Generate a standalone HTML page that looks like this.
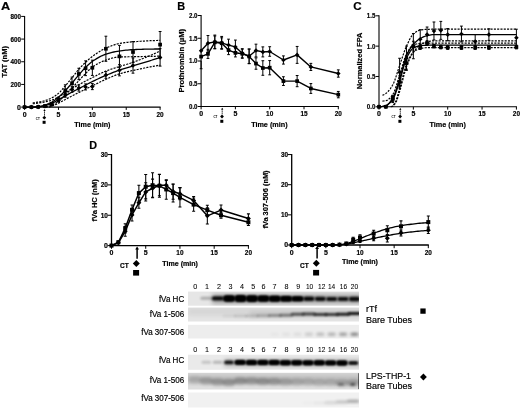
<!DOCTYPE html>
<html><head><meta charset="utf-8"><title>Figure</title>
<style>
html,body{margin:0;padding:0;background:#fff;}
svg{display:block;filter:blur(0.3px);font-family:"Liberation Sans",sans-serif;fill:#000;}
text{stroke:#000;stroke-width:.18px;}
</style></head>
<body>
<svg width="520" height="410" viewBox="0 0 520 410">
<rect width="520" height="410" fill="#fff"/>
<text x="0.9" y="10.3" font-size="11.2" font-weight="bold" textLength="9.2" lengthAdjust="spacingAndGlyphs">A</text>
<polyline points="32.73,102.84 34.34,102.65 35.95,102.42 37.57,102.16 39.18,101.88 40.79,101.58 42.4,101.24 44.02,100.85 45.63,100.4 47.24,99.86 48.85,99.22 50.47,98.51 52.08,97.73 53.69,96.84 55.3,95.82 56.91,94.67 58.53,93.39 60.14,91.85 61.75,90.04 63.36,88.08 64.98,86.14 66.59,84.27 68.2,82.37 69.81,80.44 71.42,78.49 73.04,76.5 74.65,74.42 76.26,72.33 77.87,70.33 79.49,68.48 81.1,66.74 82.71,65.08 84.32,63.49 85.94,61.97 87.55,60.48 89.16,59.05 90.77,57.7 92.38,56.46 94,55.28 95.61,54.14 97.22,53.03 98.83,51.97 100.45,50.96 102.06,50.02 103.67,49.15 105.28,48.36 106.89,47.65 108.51,46.97 110.12,46.31 111.73,45.69 113.34,45.12 114.96,44.6 116.57,44.14 118.18,43.75 119.79,43.43 121.41,43.15 123.02,42.9 124.63,42.67 126.24,42.47 127.85,42.28 129.47,42.11 131.08,41.96 132.69,41.83 134.3,41.71 135.92,41.59 137.53,41.48 139.14,41.36 140.75,41.25 142.36,41.14 143.98,41.04 145.59,40.94 147.2,40.85 148.81,40.77 150.43,40.69 152.04,40.63 153.65,40.57 155.26,40.53 156.88,40.49 158.49,40.47 160.1,40.47" fill="none" stroke="#000" stroke-width="1.2" stroke-linejoin="round" stroke-dasharray="2.1 1.2"/>
<polyline points="46.28,107.1 47.72,106.65 49.16,106.13 50.6,105.56 52.04,104.93 53.48,104.24 54.92,103.49 56.37,102.65 57.81,101.73 59.25,100.7 60.69,99.48 62.13,98.11 63.57,96.68 65.01,95.24 66.45,93.82 67.89,92.37 69.33,90.89 70.77,89.38 72.21,87.86 73.65,86.31 75.1,84.73 76.54,83.14 77.98,81.56 79.42,80.01 80.86,78.45 82.3,76.9 83.74,75.38 85.18,73.9 86.62,72.44 88.06,70.96 89.5,69.53 90.94,68.21 92.38,67.1 93.83,66.12 95.27,65.19 96.71,64.32 98.15,63.49 99.59,62.72 101.03,62.01 102.47,61.36 103.91,60.77 105.35,60.25 106.79,59.78 108.23,59.32 109.67,58.86 111.11,58.43 112.55,58.04 114,57.68 115.44,57.38 116.88,57.15 118.32,56.99 119.76,56.92 121.2,56.88 122.64,56.85 124.08,56.82 125.52,56.8 126.96,56.79 128.4,56.77 129.84,56.75 131.28,56.73 132.73,56.71 134.17,56.68 135.61,56.66 137.05,56.63 138.49,56.6 139.93,56.57 141.37,56.55 142.81,56.52 144.25,56.49 145.69,56.46 147.13,56.43 148.57,56.4 150.01,56.37 151.46,56.34 152.9,56.31 154.34,56.28 155.78,56.24 157.22,56.21 158.66,56.18 160.1,56.14" fill="none" stroke="#000" stroke-width="1.2" stroke-linejoin="round" stroke-dasharray="2.1 1.2"/>
<polyline points="32.73,103.74 34.34,103.56 35.95,103.36 37.57,103.15 39.18,102.92 40.79,102.68 42.4,102.42 44.02,102.13 45.63,101.8 47.24,101.43 48.85,101.02 50.47,100.55 52.08,100.03 53.69,99.39 55.3,98.65 56.91,97.84 58.53,96.99 60.14,96.06 61.75,95.04 63.36,93.98 64.98,92.94 66.59,91.94 68.2,90.94 69.81,89.95 71.42,88.98 73.04,88.02 74.65,87.07 76.26,86.13 77.87,85.22 79.49,84.33 81.1,83.45 82.71,82.59 84.32,81.74 85.94,80.91 87.55,80.08 89.16,79.26 90.77,78.44 92.38,77.63 94,76.81 95.61,75.97 97.22,75.13 98.83,74.31 100.45,73.5 102.06,72.72 103.67,71.98 105.28,71.29 106.89,70.66 108.51,70.07 110.12,69.51 111.73,68.98 113.34,68.47 114.96,67.97 116.57,67.47 118.18,66.96 119.79,66.45 121.41,65.94 123.02,65.45 124.63,64.96 126.24,64.48 127.85,63.99 129.47,63.48 131.08,62.96 132.69,62.41 134.3,61.84 135.92,61.26 137.53,60.66 139.14,60.05 140.75,59.43 142.36,58.8 143.98,58.16 145.59,57.5 147.2,56.83 148.81,56.15 150.43,55.45 152.04,54.74 153.65,54.02 155.26,53.28 156.88,52.53 158.49,51.77 160.1,50.99" fill="none" stroke="#000" stroke-width="1.2" stroke-linejoin="round" stroke-dasharray="2.1 1.2"/>
<polyline points="48.99,107.1 50.4,106.66 51.8,106.17 53.21,105.61 54.62,105.01 56.02,104.36 57.43,103.69 58.84,103 60.24,102.27 61.65,101.49 63.05,100.7 64.46,99.91 65.87,99.15 67.27,98.4 68.68,97.65 70.09,96.91 71.49,96.17 72.9,95.46 74.31,94.75 75.71,94.06 77.12,93.37 78.53,92.68 79.93,91.98 81.34,91.28 82.74,90.58 84.15,89.88 85.56,89.18 86.96,88.48 88.37,87.78 89.78,87.08 91.18,86.39 92.59,85.7 94,85.02 95.4,84.32 96.81,83.63 98.22,82.94 99.62,82.25 101.03,81.57 102.44,80.9 103.84,80.25 105.25,79.61 106.65,78.99 108.06,78.37 109.47,77.75 110.87,77.13 112.28,76.53 113.69,75.94 115.09,75.38 116.5,74.84 117.91,74.34 119.31,73.88 120.72,73.46 122.13,73.06 123.53,72.69 124.94,72.33 126.35,71.99 127.75,71.66 129.16,71.34 130.56,71.02 131.97,70.71 133.38,70.4 134.78,70.08 136.19,69.77 137.6,69.47 139,69.16 140.41,68.86 141.82,68.57 143.22,68.27 144.63,67.98 146.04,67.7 147.44,67.42 148.85,67.14 150.25,66.87 151.66,66.6 153.07,66.34 154.47,66.08 155.88,65.83 157.29,65.58 158.69,65.34 160.1,65.1" fill="none" stroke="#000" stroke-width="1.2" stroke-linejoin="round" stroke-dasharray="2.1 1.2"/>
<polyline points="24.6,107.1 26.32,107.1 28.03,107.1 29.75,107.1 31.46,107.1 33.18,107.06 34.89,106.95 36.61,106.81 38.32,106.63 40.04,106.37 41.75,105.98 43.47,105.52 45.18,105.01 46.9,104.41 48.61,103.7 50.33,102.89 52.04,101.98 53.76,100.91 55.47,99.67 57.19,98.31 58.9,96.88 60.62,95.33 62.33,93.65 64.05,91.89 65.76,90.1 67.48,88.23 69.19,86.3 70.91,84.32 72.63,82.32 74.34,80.24 76.06,78.14 77.77,76.06 79.49,74.05 81.2,72.07 82.92,70.13 84.63,68.29 86.35,66.59 88.06,64.95 89.78,63.41 91.49,62.02 93.21,60.83 94.92,59.69 96.64,58.61 98.35,57.59 100.07,56.65 101.78,55.79 103.5,55.02 105.21,54.36 106.93,53.8 108.64,53.29 110.36,52.82 112.07,52.39 113.79,52 115.51,51.65 117.22,51.34 118.94,51.07 120.65,50.83 122.37,50.6 124.08,50.4 125.8,50.2 127.51,50.03 129.23,49.88 130.94,49.76 132.66,49.66 134.37,49.59 136.09,49.52 137.8,49.46 139.52,49.39 141.23,49.33 142.95,49.27 144.66,49.22 146.38,49.17 148.09,49.13 149.81,49.09 151.52,49.06 153.24,49.03 154.95,49.01 156.67,48.99 158.38,48.98 160.1,48.98" fill="none" stroke="#000" stroke-width="1.3" stroke-linejoin="round"/>
<polyline points="24.6,107.1 26.32,107.1 28.03,107.1 29.75,107.1 31.46,107.1 33.18,107.07 34.89,106.99 36.61,106.88 38.32,106.75 40.04,106.56 41.75,106.29 43.47,105.96 45.18,105.58 46.9,105.11 48.61,104.52 50.33,103.85 52.04,103.15 53.76,102.35 55.47,101.46 57.19,100.53 58.9,99.59 60.62,98.61 62.33,97.61 64.05,96.59 65.76,95.61 67.48,94.63 69.19,93.65 70.91,92.7 72.63,91.77 74.34,90.89 76.06,90.02 77.77,89.15 79.49,88.27 81.2,87.37 82.92,86.46 84.63,85.54 86.35,84.63 88.06,83.73 89.78,82.85 91.49,81.99 93.21,81.15 94.92,80.33 96.64,79.52 98.35,78.73 100.07,77.95 101.78,77.18 103.5,76.43 105.21,75.7 106.93,74.98 108.64,74.27 110.36,73.57 112.07,72.89 113.79,72.22 115.51,71.57 117.22,70.94 118.94,70.32 120.65,69.73 122.37,69.17 124.08,68.62 125.8,68.08 127.51,67.56 129.23,67.04 130.94,66.52 132.66,65.99 134.37,65.46 136.09,64.94 137.8,64.41 139.52,63.89 141.23,63.36 142.95,62.84 144.66,62.32 146.38,61.8 148.09,61.28 149.81,60.77 151.52,60.25 153.24,59.74 154.95,59.23 156.67,58.72 158.38,58.22 160.1,57.71" fill="none" stroke="#000" stroke-width="1.3" stroke-linejoin="round"/>
<path d="M44.93 105.53V106.43M43.53 105.53H46.33M43.53 106.43H46.33" stroke="#000" stroke-width="1" fill="none"/>
<path d="M51.7 103.18V104.97M50.3 103.18H53.1M50.3 104.97H53.1" stroke="#000" stroke-width="1" fill="none"/>
<path d="M58.48 97.02V101.5M57.08 97.02H59.88M57.08 101.5H59.88" stroke="#000" stroke-width="1" fill="none"/>
<path d="M65.25 84.81V96.01M63.85 84.81H66.65M63.85 96.01H66.65" stroke="#000" stroke-width="1" fill="none"/>
<path d="M72.03 77.09V89.41M70.62 77.09H73.43M70.62 89.41H73.43" stroke="#000" stroke-width="1" fill="none"/>
<path d="M78.8 68.24V79.66M77.4 68.24H80.2M77.4 79.66H80.2" stroke="#000" stroke-width="1" fill="none"/>
<path d="M85.58 60.85V75.63M84.17 60.85H86.98M84.17 75.63H86.98" stroke="#000" stroke-width="1" fill="none"/>
<path d="M92.35 60.18V75.41M90.95 60.18H93.75M90.95 75.41H93.75" stroke="#000" stroke-width="1" fill="none"/>
<path d="M105.9 36.21V61.3M104.5 36.21H107.3M104.5 61.3H107.3" stroke="#000" stroke-width="1" fill="none"/>
<path d="M119.45 45.39V67.34M118.05 45.39H120.85M118.05 67.34H120.85" stroke="#000" stroke-width="1" fill="none"/>
<path d="M133 41.59V62.42M131.6 41.59H134.4M131.6 62.42H134.4" stroke="#000" stroke-width="1" fill="none"/>
<path d="M160.1 31.51V57.71M158.7 31.51H161.5M158.7 57.71H161.5" stroke="#000" stroke-width="1" fill="none"/>
<path d="M44.93 105.87V106.54M43.53 105.87H46.33M43.53 106.54H46.33" stroke="#000" stroke-width="1" fill="none"/>
<path d="M51.7 103.96V105.31M50.3 103.96H53.1M50.3 105.31H53.1" stroke="#000" stroke-width="1" fill="none"/>
<path d="M58.48 98.81V101.95M57.08 98.81H59.88M57.08 101.95H59.88" stroke="#000" stroke-width="1" fill="none"/>
<path d="M65.25 92.32V97.24M63.85 92.32H66.65M63.85 97.24H66.65" stroke="#000" stroke-width="1" fill="none"/>
<path d="M72.03 86.72V92.32M70.62 86.72H73.43M70.62 92.32H73.43" stroke="#000" stroke-width="1" fill="none"/>
<path d="M78.8 85.04V91.09M77.4 85.04H80.2M77.4 91.09H80.2" stroke="#000" stroke-width="1" fill="none"/>
<path d="M85.58 83.92V89.97M84.17 83.92H86.98M84.17 89.97H86.98" stroke="#000" stroke-width="1" fill="none"/>
<path d="M92.35 83.58V89.63M90.95 83.58H93.75M90.95 89.63H93.75" stroke="#000" stroke-width="1" fill="none"/>
<path d="M105.9 71.6V78.32M104.5 71.6H107.3M104.5 78.32H107.3" stroke="#000" stroke-width="1" fill="none"/>
<path d="M119.45 64.66V75.85M118.05 64.66H120.85M118.05 75.85H120.85" stroke="#000" stroke-width="1" fill="none"/>
<path d="M133 57.94V73.17M131.6 57.94H134.4M131.6 73.17H134.4" stroke="#000" stroke-width="1" fill="none"/>
<path d="M160.1 48.64V66.11M158.7 48.64H161.5M158.7 66.11H161.5" stroke="#000" stroke-width="1" fill="none"/>
<rect x="22.75" y="105.25" width="3.7" height="3.7" fill="#000"/>
<rect x="29.52" y="105.25" width="3.7" height="3.7" fill="#000"/>
<rect x="36.3" y="105.03" width="3.7" height="3.7" fill="#000"/>
<rect x="43.08" y="104.13" width="3.7" height="3.7" fill="#000"/>
<rect x="49.85" y="102.23" width="3.7" height="3.7" fill="#000"/>
<rect x="56.62" y="97.41" width="3.7" height="3.7" fill="#000"/>
<rect x="63.4" y="88.56" width="3.7" height="3.7" fill="#000"/>
<rect x="70.18" y="81.4" width="3.7" height="3.7" fill="#000"/>
<rect x="76.95" y="72.1" width="3.7" height="3.7" fill="#000"/>
<rect x="83.73" y="66.39" width="3.7" height="3.7" fill="#000"/>
<rect x="90.5" y="65.94" width="3.7" height="3.7" fill="#000"/>
<rect x="104.05" y="46.9" width="3.7" height="3.7" fill="#000"/>
<rect x="117.6" y="54.52" width="3.7" height="3.7" fill="#000"/>
<rect x="131.15" y="50.15" width="3.7" height="3.7" fill="#000"/>
<rect x="158.25" y="42.76" width="3.7" height="3.7" fill="#000"/>
<path d="M24.6 104.8L26.9 107.1L24.6 109.4L22.3 107.1Z" fill="#000"/>
<path d="M31.38 104.8L33.67 107.1L31.38 109.4L29.07 107.1Z" fill="#000"/>
<path d="M38.15 104.58L40.45 106.88L38.15 109.18L35.85 106.88Z" fill="#000"/>
<path d="M44.93 103.9L47.23 106.2L44.93 108.5L42.63 106.2Z" fill="#000"/>
<path d="M51.7 102.34L54 104.64L51.7 106.94L49.4 104.64Z" fill="#000"/>
<path d="M58.48 98.08L60.77 100.38L58.48 102.68L56.18 100.38Z" fill="#000"/>
<path d="M65.25 92.48L67.55 94.78L65.25 97.08L62.95 94.78Z" fill="#000"/>
<path d="M72.03 87.22L74.33 89.52L72.03 91.82L69.73 89.52Z" fill="#000"/>
<path d="M78.8 85.76L81.1 88.06L78.8 90.36L76.5 88.06Z" fill="#000"/>
<path d="M85.58 84.64L87.88 86.94L85.58 89.24L83.28 86.94Z" fill="#000"/>
<path d="M92.35 84.31L94.65 86.61L92.35 88.91L90.05 86.61Z" fill="#000"/>
<path d="M105.9 72.66L108.2 74.96L105.9 77.26L103.6 74.96Z" fill="#000"/>
<path d="M119.45 67.96L121.75 70.26L119.45 72.56L117.15 70.26Z" fill="#000"/>
<path d="M133 63.25L135.3 65.55L133 67.85L130.7 65.55Z" fill="#000"/>
<path d="M160.1 55.08L162.4 57.38L160.1 59.68L157.8 57.38Z" fill="#000"/>
<path d="M24.6 15.92V107.7M24 107.1H160.6" stroke="#000" stroke-width="1.1" fill="none"/>
<line x1="21.2" y1="107.1" x2="24.6" y2="107.1" stroke="#000" stroke-width="1"/>
<text x="21" y="109.55" font-size="7" font-weight="bold" text-anchor="end" textLength="3.89" lengthAdjust="spacingAndGlyphs">0</text>
<line x1="21.2" y1="84.43" x2="24.6" y2="84.43" stroke="#000" stroke-width="1"/>
<text x="21" y="86.88" font-size="7" font-weight="bold" text-anchor="end" textLength="10.48" lengthAdjust="spacingAndGlyphs">200</text>
<line x1="21.2" y1="61.76" x2="24.6" y2="61.76" stroke="#000" stroke-width="1"/>
<text x="21" y="64.21" font-size="7" font-weight="bold" text-anchor="end" textLength="10.48" lengthAdjust="spacingAndGlyphs">400</text>
<line x1="21.2" y1="39.09" x2="24.6" y2="39.09" stroke="#000" stroke-width="1"/>
<text x="21" y="41.54" font-size="7" font-weight="bold" text-anchor="end" textLength="10.48" lengthAdjust="spacingAndGlyphs">600</text>
<line x1="21.2" y1="16.42" x2="24.6" y2="16.42" stroke="#000" stroke-width="1"/>
<text x="21" y="18.87" font-size="7" font-weight="bold" text-anchor="end" textLength="10.48" lengthAdjust="spacingAndGlyphs">800</text>
<line x1="24.6" y1="107.1" x2="24.6" y2="109.9" stroke="#000" stroke-width="1"/>
<text x="24.6" y="116.5" font-size="7" font-weight="bold" text-anchor="middle" textLength="3.89" lengthAdjust="spacingAndGlyphs">0</text>
<line x1="58.48" y1="107.1" x2="58.48" y2="109.9" stroke="#000" stroke-width="1"/>
<text x="58.48" y="116.5" font-size="7" font-weight="bold" text-anchor="middle" textLength="3.89" lengthAdjust="spacingAndGlyphs">5</text>
<line x1="92.35" y1="107.1" x2="92.35" y2="109.9" stroke="#000" stroke-width="1"/>
<text x="92.35" y="116.5" font-size="7" font-weight="bold" text-anchor="middle" textLength="7.18" lengthAdjust="spacingAndGlyphs">10</text>
<line x1="126.22" y1="107.1" x2="126.22" y2="109.9" stroke="#000" stroke-width="1"/>
<text x="126.22" y="116.5" font-size="7" font-weight="bold" text-anchor="middle" textLength="7.18" lengthAdjust="spacingAndGlyphs">15</text>
<line x1="160.1" y1="107.1" x2="160.1" y2="109.9" stroke="#000" stroke-width="1"/>
<text x="160.1" y="116.5" font-size="7" font-weight="bold" text-anchor="middle" textLength="7.18" lengthAdjust="spacingAndGlyphs">20</text>
<text x="6.5" y="61.75" font-size="7" font-weight="bold" text-anchor="middle" textLength="31.5" lengthAdjust="spacingAndGlyphs" transform="rotate(-90 6.5 61.75)">TAT (nM)</text>
<text x="92.4" y="126.7" font-size="7.7" font-weight="bold" text-anchor="middle" textLength="36.2" lengthAdjust="spacingAndGlyphs">Time (min)</text>
<line x1="44.5" y1="110" x2="44.5" y2="116" stroke="#000" stroke-width="0.75" stroke-dasharray="1.6 0.35"/>
<path d="M44.5 109L45.6 110.9H43.4Z" fill="#000"/>
<path d="M44.3 115.8L46.2 117.7L44.3 119.6L42.4 117.7Z" fill="#000"/>
<rect x="42.6" y="120.8" width="3" height="3" fill="#000"/>
<text x="35.8" y="119.5" font-size="2.8" font-weight="bold" textLength="4" lengthAdjust="spacingAndGlyphs" style="stroke-width:0">CT</text>
<text x="177.3" y="10.2" font-size="11.2" font-weight="bold" textLength="7.9" lengthAdjust="spacingAndGlyphs">B</text>
<path d="M201.1 61V68.73M199.7 68.73H202.5" stroke="#000" stroke-width="1" fill="none"/>
<polyline points="201.1,56.59 207.96,53.86 214.82,42.34 221.68,43.26 228.54,50.08 235.4,52.81 242.26,53.72 249.12,56.45 255.98,63.55 262.84,68.01 269.7,67.69 283.42,81.11 297.14,81.11 310.86,88.48 338.3,94.62" fill="none" stroke="#000" stroke-width="1.4" stroke-linejoin="round"/>
<polyline points="201.1,50.81 207.96,43.26 214.82,41.89 221.68,42.8 228.54,45.07 235.4,46.89 242.26,53.27 249.12,56.22 255.98,50.54 262.84,51.9 269.7,51.49 283.42,60 297.14,54.9 310.86,66.91 338.3,73.51" fill="none" stroke="#000" stroke-width="1.4" stroke-linejoin="round"/>
<path d="M207.96 49.31V58.41M206.56 49.31H209.36M206.56 58.41H209.36" stroke="#000" stroke-width="1" fill="none"/>
<path d="M214.82 35.98V48.71M213.42 35.98H216.22M213.42 48.71H216.22" stroke="#000" stroke-width="1" fill="none"/>
<path d="M221.68 37.8V48.71M220.28 37.8H223.08M220.28 48.71H223.08" stroke="#000" stroke-width="1" fill="none"/>
<path d="M228.54 45.53V54.63M227.14 45.53H229.94M227.14 54.63H229.94" stroke="#000" stroke-width="1" fill="none"/>
<path d="M235.4 48.71V56.91M234 48.71H236.8M234 56.91H236.8" stroke="#000" stroke-width="1" fill="none"/>
<path d="M242.26 49.17V58.27M240.86 49.17H243.66M240.86 58.27H243.66" stroke="#000" stroke-width="1" fill="none"/>
<path d="M249.12 49.17V63.73M247.72 49.17H250.52M247.72 63.73H250.52" stroke="#000" stroke-width="1" fill="none"/>
<path d="M255.98 57.86V69.24M254.58 57.86H257.38M254.58 69.24H257.38" stroke="#000" stroke-width="1" fill="none"/>
<path d="M262.84 60.73V75.29M261.44 60.73H264.24M261.44 75.29H264.24" stroke="#000" stroke-width="1" fill="none"/>
<path d="M269.7 60.55V74.83M268.3 60.55H271.1M268.3 74.83H271.1" stroke="#000" stroke-width="1" fill="none"/>
<path d="M283.42 76.74V85.48M282.02 76.74H284.82M282.02 85.48H284.82" stroke="#000" stroke-width="1" fill="none"/>
<path d="M297.14 75.51V86.71M295.74 75.51H298.54M295.74 86.71H298.54" stroke="#000" stroke-width="1" fill="none"/>
<path d="M310.86 83.57V93.4M309.46 83.57H312.26M309.46 93.4H312.26" stroke="#000" stroke-width="1" fill="none"/>
<path d="M338.3 91.44V97.81M336.9 91.44H339.7M336.9 97.81H339.7" stroke="#000" stroke-width="1" fill="none"/>
<path d="M207.96 35.52V50.99M206.56 35.52H209.36M206.56 50.99H209.36" stroke="#000" stroke-width="1" fill="none"/>
<path d="M214.82 35.07V48.71M213.42 35.07H216.22M213.42 48.71H216.22" stroke="#000" stroke-width="1" fill="none"/>
<path d="M221.68 36.43V49.17M220.28 36.43H223.08M220.28 49.17H223.08" stroke="#000" stroke-width="1" fill="none"/>
<path d="M228.54 39.16V50.99M227.14 39.16H229.94M227.14 50.99H229.94" stroke="#000" stroke-width="1" fill="none"/>
<path d="M235.4 40.07V53.72M234 40.07H236.8M234 53.72H236.8" stroke="#000" stroke-width="1" fill="none"/>
<path d="M242.26 48.71V57.82M240.86 48.71H243.66M240.86 57.82H243.66" stroke="#000" stroke-width="1" fill="none"/>
<path d="M249.12 48.94V63.5M247.72 48.94H250.52M247.72 63.5H250.52" stroke="#000" stroke-width="1" fill="none"/>
<path d="M255.98 44.16V56.91M254.58 44.16H257.38M254.58 56.91H257.38" stroke="#000" stroke-width="1" fill="none"/>
<path d="M262.84 46.89V56.91M261.44 46.89H264.24M261.44 56.91H264.24" stroke="#000" stroke-width="1" fill="none"/>
<path d="M269.7 46.71V56.27M268.3 46.71H271.1M268.3 56.27H271.1" stroke="#000" stroke-width="1" fill="none"/>
<path d="M283.42 55.9V64.09M282.02 55.9H284.82M282.02 64.09H284.82" stroke="#000" stroke-width="1" fill="none"/>
<path d="M297.14 46.44V63.37M295.74 46.44H298.54M295.74 63.37H298.54" stroke="#000" stroke-width="1" fill="none"/>
<path d="M310.86 63.37V70.46M309.46 63.37H312.26M309.46 70.46H312.26" stroke="#000" stroke-width="1" fill="none"/>
<path d="M338.3 69.87V77.15M336.9 69.87H339.7M336.9 77.15H339.7" stroke="#000" stroke-width="1" fill="none"/>
<rect x="199.25" y="54.74" width="3.7" height="3.7" fill="#000"/>
<rect x="206.11" y="52.01" width="3.7" height="3.7" fill="#000"/>
<rect x="212.97" y="40.49" width="3.7" height="3.7" fill="#000"/>
<rect x="219.83" y="41.41" width="3.7" height="3.7" fill="#000"/>
<rect x="226.69" y="48.23" width="3.7" height="3.7" fill="#000"/>
<rect x="233.55" y="50.96" width="3.7" height="3.7" fill="#000"/>
<rect x="240.41" y="51.87" width="3.7" height="3.7" fill="#000"/>
<rect x="247.27" y="54.6" width="3.7" height="3.7" fill="#000"/>
<rect x="254.13" y="61.7" width="3.7" height="3.7" fill="#000"/>
<rect x="260.99" y="66.16" width="3.7" height="3.7" fill="#000"/>
<rect x="267.85" y="65.84" width="3.7" height="3.7" fill="#000"/>
<rect x="281.57" y="79.26" width="3.7" height="3.7" fill="#000"/>
<rect x="295.29" y="79.26" width="3.7" height="3.7" fill="#000"/>
<rect x="309.01" y="86.63" width="3.7" height="3.7" fill="#000"/>
<rect x="336.45" y="92.77" width="3.7" height="3.7" fill="#000"/>
<path d="M201.1 48.51L203.4 50.81L201.1 53.11L198.8 50.81Z" fill="#000"/>
<path d="M207.96 40.96L210.26 43.26L207.96 45.55L205.66 43.26Z" fill="#000"/>
<path d="M214.82 39.59L217.12 41.89L214.82 44.19L212.52 41.89Z" fill="#000"/>
<path d="M221.68 40.5L223.98 42.8L221.68 45.1L219.38 42.8Z" fill="#000"/>
<path d="M228.54 42.77L230.84 45.07L228.54 47.37L226.24 45.07Z" fill="#000"/>
<path d="M235.4 44.59L237.7 46.89L235.4 49.19L233.1 46.89Z" fill="#000"/>
<path d="M242.26 50.97L244.56 53.27L242.26 55.56L239.96 53.27Z" fill="#000"/>
<path d="M249.12 53.92L251.42 56.22L249.12 58.52L246.82 56.22Z" fill="#000"/>
<path d="M255.98 48.24L258.28 50.54L255.98 52.84L253.68 50.54Z" fill="#000"/>
<path d="M262.84 49.6L265.14 51.9L262.84 54.2L260.54 51.9Z" fill="#000"/>
<path d="M269.7 49.19L272 51.49L269.7 53.79L267.4 51.49Z" fill="#000"/>
<path d="M283.42 57.7L285.72 60L283.42 62.3L281.12 60Z" fill="#000"/>
<path d="M297.14 52.6L299.44 54.9L297.14 57.2L294.84 54.9Z" fill="#000"/>
<path d="M310.86 64.61L313.16 66.91L310.86 69.21L308.56 66.91Z" fill="#000"/>
<path d="M338.3 71.21L340.6 73.51L338.3 75.81L336 73.51Z" fill="#000"/>
<path d="M201.1 15V107.1M200.5 106.5H338.8" stroke="#000" stroke-width="1.1" fill="none"/>
<line x1="197.7" y1="106.5" x2="201.1" y2="106.5" stroke="#000" stroke-width="1"/>
<text x="197.5" y="108.95" font-size="7" font-weight="bold" text-anchor="end" textLength="8.53" lengthAdjust="spacingAndGlyphs">0.0</text>
<line x1="197.7" y1="83.75" x2="201.1" y2="83.75" stroke="#000" stroke-width="1"/>
<text x="197.5" y="86.2" font-size="7" font-weight="bold" text-anchor="end" textLength="8.53" lengthAdjust="spacingAndGlyphs">0.5</text>
<line x1="197.7" y1="61" x2="201.1" y2="61" stroke="#000" stroke-width="1"/>
<text x="197.5" y="63.45" font-size="7" font-weight="bold" text-anchor="end" textLength="8.53" lengthAdjust="spacingAndGlyphs">1.0</text>
<line x1="197.7" y1="38.25" x2="201.1" y2="38.25" stroke="#000" stroke-width="1"/>
<text x="197.5" y="40.7" font-size="7" font-weight="bold" text-anchor="end" textLength="8.53" lengthAdjust="spacingAndGlyphs">1.5</text>
<line x1="197.7" y1="15.5" x2="201.1" y2="15.5" stroke="#000" stroke-width="1"/>
<text x="197.5" y="17.95" font-size="7" font-weight="bold" text-anchor="end" textLength="8.53" lengthAdjust="spacingAndGlyphs">2.0</text>
<line x1="201.1" y1="106.5" x2="201.1" y2="109.3" stroke="#000" stroke-width="1"/>
<text x="201.1" y="115.9" font-size="7" font-weight="bold" text-anchor="middle" textLength="3.89" lengthAdjust="spacingAndGlyphs">0</text>
<line x1="235.4" y1="106.5" x2="235.4" y2="109.3" stroke="#000" stroke-width="1"/>
<text x="235.4" y="115.9" font-size="7" font-weight="bold" text-anchor="middle" textLength="3.89" lengthAdjust="spacingAndGlyphs">5</text>
<line x1="269.7" y1="106.5" x2="269.7" y2="109.3" stroke="#000" stroke-width="1"/>
<text x="269.7" y="115.9" font-size="7" font-weight="bold" text-anchor="middle" textLength="7.18" lengthAdjust="spacingAndGlyphs">10</text>
<line x1="304" y1="106.5" x2="304" y2="109.3" stroke="#000" stroke-width="1"/>
<text x="304" y="115.9" font-size="7" font-weight="bold" text-anchor="middle" textLength="7.18" lengthAdjust="spacingAndGlyphs">15</text>
<line x1="338.3" y1="106.5" x2="338.3" y2="109.3" stroke="#000" stroke-width="1"/>
<text x="338.3" y="115.9" font-size="7" font-weight="bold" text-anchor="middle" textLength="7.18" lengthAdjust="spacingAndGlyphs">20</text>
<text x="184.1" y="60.75" font-size="7" font-weight="bold" text-anchor="middle" textLength="63.5" lengthAdjust="spacingAndGlyphs" transform="rotate(-90 184.1 60.75)">Prothrombin (µM)</text>
<text x="269.35" y="126.5" font-size="7.7" font-weight="bold" text-anchor="middle" textLength="36.4" lengthAdjust="spacingAndGlyphs">Time (min)</text>
<line x1="222.2" y1="108.7" x2="222.2" y2="114.6" stroke="#000" stroke-width="0.75" stroke-dasharray="1.6 0.35"/>
<path d="M222.2 107.7L223.3 109.6H221.1Z" fill="#000"/>
<path d="M222 114.6L223.9 116.5L222 118.4L220.1 116.5Z" fill="#000"/>
<rect x="220.3" y="119.8" width="3" height="3" fill="#000"/>
<text x="213.4" y="118.2" font-size="2.8" font-weight="bold" textLength="4" lengthAdjust="spacingAndGlyphs" style="stroke-width:0">CT</text>
<text x="353.2" y="10.4" font-size="11.2" font-weight="bold" textLength="8.4" lengthAdjust="spacingAndGlyphs">C</text>
<polyline points="382.44,95.27 383.56,94.84 384.69,94.24 385.81,93.49 386.94,92.6 388.06,91.51 389.19,90.22 390.32,88.74 391.44,87.08 392.57,85.26 393.69,83.05 394.82,80.21 395.94,76.91 397.07,73.38 398.2,69.8 399.32,66.38 400.45,63.12 401.57,59.74 402.7,56.32 403.82,52.99 404.95,49.85 406.08,47.04 407.2,44.56 408.33,42.14 409.45,39.84 410.58,37.73 411.7,35.93 412.83,34.5 413.96,33.49 415.08,32.59 416.21,31.8 417.33,31.12 418.46,30.58 419.58,30.2 420.71,29.97 421.84,29.79 422.96,29.64 424.09,29.52 425.21,29.43 426.34,29.36 427.47,29.32 428.59,29.29 429.72,29.26 430.84,29.24 431.97,29.22 433.09,29.21 434.22,29.21 435.35,29.21 436.47,29.21 437.6,29.21 438.72,29.21 439.85,29.21 440.97,29.21 442.1,29.21 443.23,29.21 444.35,29.21 445.48,29.21 446.6,29.21 447.73,29.21 448.85,29.21 449.98,29.21 451.11,29.21 452.23,29.21 453.36,29.21 454.48,29.21 455.61,29.21 456.73,29.21 457.86,29.21 458.99,29.21 460.11,29.21 461.24,29.21 462.36,29.21 463.49,29.21 464.62,29.21 465.74,29.21 466.87,29.21 467.99,29.21 469.12,29.21 470.24,29.21 471.37,29.21 472.5,29.21 473.62,29.21 474.75,29.21 475.87,29.21 477,29.21 478.12,29.21 479.25,29.21 480.38,29.21 481.5,29.21 482.63,29.21 483.75,29.21 484.88,29.21 486,29.21 487.13,29.21 488.26,29.21 489.38,29.21 490.51,29.21 491.63,29.21 492.76,29.21 493.88,29.21 495.01,29.21 496.14,29.21 497.26,29.21 498.39,29.21 499.51,29.21 500.64,29.21 501.77,29.21 502.89,29.21 504.02,29.21 505.14,29.21 506.27,29.21 507.39,29.21 508.52,29.21 509.65,29.21 510.77,29.21 511.9,29.21 513.02,29.21 514.15,29.21 515.27,29.21 516.4,29.21" fill="none" stroke="#000" stroke-width="1.2" stroke-linejoin="round" stroke-dasharray="2.1 1.2"/>
<polyline points="391.37,106.8 392.42,106.48 393.47,105.63 394.52,104.43 395.57,103.05 396.62,100.94 397.67,97.94 398.72,94.52 399.77,91.12 400.82,87.49 401.87,83.47 402.92,79.29 403.97,75.16 405.03,71.29 406.08,67.9 407.13,65.06 408.18,62.41 409.23,59.92 410.28,57.62 411.33,55.54 412.38,53.68 413.43,52.09 414.48,50.65 415.53,49.32 416.58,48.1 417.63,47.01 418.68,46.05 419.74,45.24 420.79,44.57 421.84,43.97 422.89,43.43 423.94,42.94 424.99,42.52 426.04,42.17 427.09,41.89 428.14,41.64 429.19,41.41 430.24,41.19 431.29,41.01 432.34,40.88 433.39,40.81 434.44,40.79 435.5,40.79 436.55,40.79 437.6,40.79 438.65,40.79 439.7,40.79 440.75,40.79 441.8,40.79 442.85,40.79 443.9,40.79 444.95,40.79 446,40.79 447.05,40.79 448.1,40.79 449.15,40.79 450.21,40.79 451.26,40.79 452.31,40.79 453.36,40.79 454.41,40.79 455.46,40.79 456.51,40.79 457.56,40.79 458.61,40.79 459.66,40.79 460.71,40.79 461.76,40.79 462.81,40.79 463.86,40.79 464.92,40.79 465.97,40.79 467.02,40.79 468.07,40.79 469.12,40.79 470.17,40.79 471.22,40.79 472.27,40.79 473.32,40.79 474.37,40.79 475.42,40.79 476.47,40.79 477.52,40.79 478.57,40.79 479.63,40.79 480.68,40.79 481.73,40.79 482.78,40.79 483.83,40.79 484.88,40.79 485.93,40.79 486.98,40.79 488.03,40.79 489.08,40.79 490.13,40.79 491.18,40.79 492.23,40.79 493.28,40.79 494.34,40.79 495.39,40.79 496.44,40.79 497.49,40.79 498.54,40.79 499.59,40.79 500.64,40.79 501.69,40.79 502.74,40.79 503.79,40.79 504.84,40.79 505.89,40.79 506.94,40.79 507.99,40.79 509.05,40.79 510.1,40.79 511.15,40.79 512.2,40.79 513.25,40.79 514.3,40.79 515.35,40.79 516.4,40.79" fill="none" stroke="#000" stroke-width="1.2" stroke-linejoin="round" stroke-dasharray="2.1 1.2"/>
<polyline points="382.44,101.04 383.56,101 384.69,100.89 385.81,100.74 386.94,100.42 388.06,99.76 389.19,98.84 390.32,97.68 391.44,96.36 392.57,94.9 393.69,93.04 394.82,90.35 395.94,87.06 397.07,83.44 398.2,79.71 399.32,76.12 400.45,72.64 401.57,68.83 402.7,64.89 403.82,61.08 404.95,57.64 406.08,54.83 407.2,52.69 408.33,50.71 409.45,48.88 410.58,47.3 411.7,46.04 412.83,45.17 413.96,44.7 415.08,44.34 416.21,44.03 417.33,43.79 418.46,43.6 419.58,43.46 420.71,43.37 421.84,43.29 422.96,43.22 424.09,43.17 425.21,43.13 426.34,43.1 427.47,43.1 428.59,43.1 429.72,43.1 430.84,43.1 431.97,43.1 433.09,43.1 434.22,43.1 435.35,43.1 436.47,43.1 437.6,43.1 438.72,43.1 439.85,43.1 440.97,43.1 442.1,43.1 443.23,43.1 444.35,43.1 445.48,43.1 446.6,43.1 447.73,43.1 448.85,43.1 449.98,43.1 451.11,43.1 452.23,43.1 453.36,43.1 454.48,43.1 455.61,43.1 456.73,43.1 457.86,43.1 458.99,43.1 460.11,43.1 461.24,43.1 462.36,43.1 463.49,43.1 464.62,43.1 465.74,43.1 466.87,43.1 467.99,43.1 469.12,43.1 470.24,43.1 471.37,43.1 472.5,43.1 473.62,43.1 474.75,43.1 475.87,43.1 477,43.1 478.12,43.1 479.25,43.1 480.38,43.1 481.5,43.1 482.63,43.1 483.75,43.1 484.88,43.1 486,43.1 487.13,43.1 488.26,43.1 489.38,43.1 490.51,43.1 491.63,43.1 492.76,43.1 493.88,43.1 495.01,43.1 496.14,43.1 497.26,43.1 498.39,43.1 499.51,43.1 500.64,43.1 501.77,43.1 502.89,43.1 504.02,43.1 505.14,43.1 506.27,43.1 507.39,43.1 508.52,43.1 509.65,43.1 510.77,43.1 511.9,43.1 513.02,43.1 514.15,43.1 515.27,43.1 516.4,43.1" fill="none" stroke="#000" stroke-width="1.2" stroke-linejoin="round" stroke-dasharray="2.1 1.2"/>
<polyline points="390.68,106.8 391.74,106.48 392.79,105.62 393.85,104.41 394.9,103.01 395.96,100.81 397.02,97.65 398.07,93.97 399.13,90.21 400.19,86.65 401.24,82.75 402.3,78.63 403.36,74.49 404.41,70.57 405.47,67.07 406.53,64.22 407.58,61.79 408.64,59.48 409.7,57.36 410.75,55.47 411.81,53.88 412.87,52.64 413.92,51.75 414.98,50.97 416.03,50.29 417.09,49.7 418.15,49.21 419.2,48.83 420.26,48.55 421.32,48.34 422.37,48.15 423.43,47.98 424.49,47.84 425.54,47.74 426.6,47.67 427.66,47.63 428.71,47.6 429.77,47.58 430.83,47.56 431.88,47.54 432.94,47.53 433.99,47.53 435.05,47.53 436.11,47.53 437.16,47.53 438.22,47.53 439.28,47.53 440.33,47.53 441.39,47.53 442.45,47.53 443.5,47.53 444.56,47.53 445.62,47.53 446.67,47.53 447.73,47.53 448.79,47.53 449.84,47.53 450.9,47.53 451.95,47.53 453.01,47.53 454.07,47.53 455.12,47.53 456.18,47.53 457.24,47.53 458.29,47.53 459.35,47.53 460.41,47.53 461.46,47.53 462.52,47.53 463.58,47.53 464.63,47.53 465.69,47.53 466.75,47.53 467.8,47.53 468.86,47.53 469.91,47.53 470.97,47.53 472.03,47.53 473.08,47.53 474.14,47.53 475.2,47.53 476.25,47.53 477.31,47.53 478.37,47.53 479.42,47.53 480.48,47.53 481.54,47.53 482.59,47.53 483.65,47.53 484.71,47.53 485.76,47.53 486.82,47.53 487.88,47.53 488.93,47.53 489.99,47.53 491.04,47.53 492.1,47.53 493.16,47.53 494.21,47.53 495.27,47.53 496.33,47.53 497.38,47.53 498.44,47.53 499.5,47.53 500.55,47.53 501.61,47.53 502.67,47.53 503.72,47.53 504.78,47.53 505.84,47.53 506.89,47.53 507.95,47.53 509,47.53 510.06,47.53 511.12,47.53 512.17,47.53 513.23,47.53 514.29,47.53 515.34,47.53 516.4,47.53" fill="none" stroke="#000" stroke-width="1.2" stroke-linejoin="round" stroke-dasharray="2.1 1.2"/>
<polyline points="379,106.8 380.15,106.76 381.31,106.64 382.46,106.45 383.62,106.2 384.77,105.9 385.93,105.57 387.08,105.01 388.24,104.11 389.39,102.91 390.55,101.48 391.7,99.87 392.86,98.12 394.01,95.85 395.16,92.89 396.32,89.46 397.47,85.76 398.63,82 399.78,78.35 400.94,74.45 402.09,70.21 403.25,65.91 404.4,61.81 405.56,58.2 406.71,55.33 407.87,52.9 409.02,50.68 410.17,48.69 411.33,46.91 412.48,45.34 413.64,43.99 414.79,42.78 415.95,41.68 417.1,40.69 418.26,39.8 419.41,39.03 420.57,38.36 421.72,37.75 422.88,37.19 424.03,36.69 425.18,36.25 426.34,35.89 427.49,35.61 428.65,35.34 429.8,35.09 430.96,34.88 432.11,34.72 433.27,34.62 434.42,34.61 435.58,34.61 436.73,34.61 437.89,34.61 439.04,34.61 440.19,34.61 441.35,34.61 442.5,34.61 443.66,34.61 444.81,34.61 445.97,34.61 447.12,34.61 448.28,34.61 449.43,34.61 450.59,34.61 451.74,34.61 452.9,34.61 454.05,34.61 455.21,34.61 456.36,34.61 457.51,34.61 458.67,34.61 459.82,34.61 460.98,34.61 462.13,34.61 463.29,34.61 464.44,34.61 465.6,34.61 466.75,34.61 467.91,34.61 469.06,34.61 470.22,34.61 471.37,34.61 472.52,34.61 473.68,34.61 474.83,34.61 475.99,34.61 477.14,34.61 478.3,34.61 479.45,34.61 480.61,34.61 481.76,34.61 482.92,34.61 484.07,34.61 485.23,34.61 486.38,34.61 487.53,34.61 488.69,34.61 489.84,34.61 491,34.61 492.15,34.61 493.31,34.61 494.46,34.61 495.62,34.61 496.77,34.61 497.93,34.61 499.08,34.61 500.24,34.61 501.39,34.61 502.54,34.61 503.7,34.61 504.85,34.61 506.01,34.61 507.16,34.61 508.32,34.61 509.47,34.61 510.63,34.61 511.78,34.61 512.94,34.61 514.09,34.61 515.25,34.61 516.4,34.61" fill="none" stroke="#000" stroke-width="1.3" stroke-linejoin="round"/>
<polyline points="379,106.8 380.15,106.76 381.31,106.63 382.46,106.44 383.62,106.19 384.77,105.9 385.93,105.57 387.08,105.08 388.24,104.33 389.39,103.36 390.55,102.19 391.7,100.85 392.86,99.36 394.01,97.33 395.16,94.61 396.32,91.4 397.47,87.9 398.63,84.3 399.78,80.8 400.94,76.94 402.09,72.65 403.25,68.26 404.4,64.1 405.56,60.51 406.71,57.79 407.87,55.5 409.02,53.37 410.17,51.48 411.33,49.9 412.48,48.69 413.64,47.92 414.79,47.33 415.95,46.83 417.1,46.41 418.26,46.07 419.41,45.83 420.57,45.67 421.72,45.55 422.88,45.45 424.03,45.36 425.18,45.3 426.34,45.25 427.49,45.21 428.65,45.18 429.8,45.15 430.96,45.13 432.11,45.11 433.27,45.1 434.42,45.1 435.58,45.1 436.73,45.1 437.89,45.1 439.04,45.1 440.19,45.1 441.35,45.1 442.5,45.1 443.66,45.1 444.81,45.1 445.97,45.1 447.12,45.1 448.28,45.1 449.43,45.1 450.59,45.1 451.74,45.1 452.9,45.1 454.05,45.1 455.21,45.1 456.36,45.1 457.51,45.1 458.67,45.1 459.82,45.1 460.98,45.1 462.13,45.1 463.29,45.1 464.44,45.1 465.6,45.1 466.75,45.1 467.91,45.1 469.06,45.1 470.22,45.1 471.37,45.1 472.52,45.1 473.68,45.1 474.83,45.1 475.99,45.1 477.14,45.1 478.3,45.1 479.45,45.1 480.61,45.1 481.76,45.1 482.92,45.1 484.07,45.1 485.23,45.1 486.38,45.1 487.53,45.1 488.69,45.1 489.84,45.1 491,45.1 492.15,45.1 493.31,45.1 494.46,45.1 495.62,45.1 496.77,45.1 497.93,45.1 499.08,45.1 500.24,45.1 501.39,45.1 502.54,45.1 503.7,45.1 504.85,45.1 506.01,45.1 507.16,45.1 508.32,45.1 509.47,45.1 510.63,45.1 511.78,45.1 512.94,45.1 514.09,45.1 515.25,45.1 516.4,45.1" fill="none" stroke="#000" stroke-width="1.3" stroke-linejoin="round"/>
<path d="M392.74 96.49V101.34M391.34 96.49H394.14M391.34 101.34H394.14" stroke="#000" stroke-width="1" fill="none"/>
<path d="M399.61 75.86V87.99M398.21 75.86H401.01M398.21 87.99H401.01" stroke="#000" stroke-width="1" fill="none"/>
<path d="M406.48 57.05V69.19M405.08 57.05H407.88M405.08 69.19H407.88" stroke="#000" stroke-width="1" fill="none"/>
<path d="M413.35 41.28V50.99M411.95 41.28H414.75M411.95 50.99H414.75" stroke="#000" stroke-width="1" fill="none"/>
<path d="M420.22 44.62V49.47M418.82 44.62H421.62M418.82 49.47H421.62" stroke="#000" stroke-width="1" fill="none"/>
<path d="M427.09 40.67V45.53M425.69 40.67H428.49M425.69 45.53H428.49" stroke="#000" stroke-width="1" fill="none"/>
<path d="M433.96 44.31V47.95M432.56 44.31H435.36M432.56 47.95H435.36" stroke="#000" stroke-width="1" fill="none"/>
<path d="M440.83 45.22V48.86M439.43 45.22H442.23M439.43 48.86H442.23" stroke="#000" stroke-width="1" fill="none"/>
<path d="M447.7 45.71V49.35M446.3 45.71H449.1M446.3 49.35H449.1" stroke="#000" stroke-width="1" fill="none"/>
<path d="M461.44 45.71V49.35M460.04 45.71H462.84M460.04 49.35H462.84" stroke="#000" stroke-width="1" fill="none"/>
<path d="M475.18 45.71V49.35M473.78 45.71H476.58M473.78 49.35H476.58" stroke="#000" stroke-width="1" fill="none"/>
<path d="M488.92 45.71V49.35M487.52 45.71H490.32M487.52 49.35H490.32" stroke="#000" stroke-width="1" fill="none"/>
<path d="M516.4 45.22V48.86M515 45.22H517.8M515 48.86H517.8" stroke="#000" stroke-width="1" fill="none"/>
<path d="M392.74 95.27V102.55M391.34 95.27H394.14M391.34 102.55H394.14" stroke="#000" stroke-width="1" fill="none"/>
<path d="M399.61 58.27V86.17M398.21 58.27H401.01M398.21 86.17H401.01" stroke="#000" stroke-width="1" fill="none"/>
<path d="M406.48 46.13V70.4M405.08 46.13H407.88M405.08 70.4H407.88" stroke="#000" stroke-width="1" fill="none"/>
<path d="M413.35 33.51V58.75M411.95 33.51H414.75M411.95 58.75H414.75" stroke="#000" stroke-width="1" fill="none"/>
<path d="M420.22 29.69V48.74M418.82 29.69H421.62M418.82 48.74H421.62" stroke="#000" stroke-width="1" fill="none"/>
<path d="M427.09 27.02V42.19M425.69 27.02H428.49M425.69 42.19H428.49" stroke="#000" stroke-width="1" fill="none"/>
<path d="M433.96 21.99V39.95M432.56 21.99H435.36M432.56 39.95H435.36" stroke="#000" stroke-width="1" fill="none"/>
<path d="M440.83 21.38V39.34M439.43 21.38H442.23M439.43 39.34H442.23" stroke="#000" stroke-width="1" fill="none"/>
<path d="M447.7 28.54V40.67M446.3 28.54H449.1M446.3 40.67H449.1" stroke="#000" stroke-width="1" fill="none"/>
<path d="M461.44 26.11V41.89M460.04 26.11H462.84M460.04 41.89H462.84" stroke="#000" stroke-width="1" fill="none"/>
<path d="M475.18 34.55V48.5M473.78 34.55H476.58M473.78 48.5H476.58" stroke="#000" stroke-width="1" fill="none"/>
<path d="M488.92 28.84V40.37M487.52 28.84H490.32M487.52 40.37H490.32" stroke="#000" stroke-width="1" fill="none"/>
<path d="M516.4 29.21V46.19M515 29.21H517.8M515 46.19H517.8" stroke="#000" stroke-width="1" fill="none"/>
<rect x="377.15" y="104.95" width="3.7" height="3.7" fill="#000"/>
<rect x="384.02" y="104.95" width="3.7" height="3.7" fill="#000"/>
<rect x="390.89" y="97.06" width="3.7" height="3.7" fill="#000"/>
<rect x="397.76" y="80.08" width="3.7" height="3.7" fill="#000"/>
<rect x="404.63" y="61.27" width="3.7" height="3.7" fill="#000"/>
<rect x="411.5" y="44.28" width="3.7" height="3.7" fill="#000"/>
<rect x="418.37" y="45.19" width="3.7" height="3.7" fill="#000"/>
<rect x="425.24" y="41.25" width="3.7" height="3.7" fill="#000"/>
<rect x="432.11" y="44.28" width="3.7" height="3.7" fill="#000"/>
<rect x="438.98" y="45.19" width="3.7" height="3.7" fill="#000"/>
<rect x="445.85" y="45.68" width="3.7" height="3.7" fill="#000"/>
<rect x="459.59" y="45.68" width="3.7" height="3.7" fill="#000"/>
<rect x="473.33" y="45.68" width="3.7" height="3.7" fill="#000"/>
<rect x="487.07" y="45.68" width="3.7" height="3.7" fill="#000"/>
<rect x="514.55" y="45.19" width="3.7" height="3.7" fill="#000"/>
<path d="M379 104.5L381.3 106.8L379 109.1L376.7 106.8Z" fill="#000"/>
<path d="M385.87 104.5L388.17 106.8L385.87 109.1L383.57 106.8Z" fill="#000"/>
<path d="M392.74 96.61L395.04 98.91L392.74 101.21L390.44 98.91Z" fill="#000"/>
<path d="M399.61 69.92L401.91 72.22L399.61 74.52L397.31 72.22Z" fill="#000"/>
<path d="M406.48 55.97L408.78 58.27L406.48 60.57L404.18 58.27Z" fill="#000"/>
<path d="M413.35 43.83L415.65 46.13L413.35 48.43L411.05 46.13Z" fill="#000"/>
<path d="M420.22 36.92L422.52 39.22L420.22 41.52L417.92 39.22Z" fill="#000"/>
<path d="M427.09 32.31L429.39 34.61L427.09 36.91L424.79 34.61Z" fill="#000"/>
<path d="M433.96 28.67L436.26 30.97L433.96 33.27L431.66 30.97Z" fill="#000"/>
<path d="M440.83 28.06L443.13 30.36L440.83 32.66L438.53 30.36Z" fill="#000"/>
<path d="M447.7 32.31L450 34.61L447.7 36.91L445.4 34.61Z" fill="#000"/>
<path d="M461.44 31.7L463.74 34L461.44 36.3L459.14 34Z" fill="#000"/>
<path d="M475.18 39.22L477.48 41.52L475.18 43.82L472.88 41.52Z" fill="#000"/>
<path d="M488.92 32.31L491.22 34.61L488.92 36.91L486.62 34.61Z" fill="#000"/>
<path d="M516.4 35.4L518.7 37.7L516.4 40L514.1 37.7Z" fill="#000"/>
<path d="M379 15.3V107.4M378.4 106.8H516.9" stroke="#000" stroke-width="1.1" fill="none"/>
<line x1="375.6" y1="106.8" x2="379" y2="106.8" stroke="#000" stroke-width="1"/>
<text x="375.4" y="109.25" font-size="7" font-weight="bold" text-anchor="end" textLength="8.53" lengthAdjust="spacingAndGlyphs">0.0</text>
<line x1="375.6" y1="76.47" x2="379" y2="76.47" stroke="#000" stroke-width="1"/>
<text x="375.4" y="78.92" font-size="7" font-weight="bold" text-anchor="end" textLength="8.53" lengthAdjust="spacingAndGlyphs">0.5</text>
<line x1="375.6" y1="46.13" x2="379" y2="46.13" stroke="#000" stroke-width="1"/>
<text x="375.4" y="48.58" font-size="7" font-weight="bold" text-anchor="end" textLength="8.53" lengthAdjust="spacingAndGlyphs">1.0</text>
<line x1="375.6" y1="15.8" x2="379" y2="15.8" stroke="#000" stroke-width="1"/>
<text x="375.4" y="18.25" font-size="7" font-weight="bold" text-anchor="end" textLength="8.53" lengthAdjust="spacingAndGlyphs">1.5</text>
<line x1="379" y1="106.8" x2="379" y2="109.6" stroke="#000" stroke-width="1"/>
<text x="379" y="116.2" font-size="7" font-weight="bold" text-anchor="middle" textLength="3.89" lengthAdjust="spacingAndGlyphs">0</text>
<line x1="413.35" y1="106.8" x2="413.35" y2="109.6" stroke="#000" stroke-width="1"/>
<text x="413.35" y="116.2" font-size="7" font-weight="bold" text-anchor="middle" textLength="3.89" lengthAdjust="spacingAndGlyphs">5</text>
<line x1="447.7" y1="106.8" x2="447.7" y2="109.6" stroke="#000" stroke-width="1"/>
<text x="447.7" y="116.2" font-size="7" font-weight="bold" text-anchor="middle" textLength="7.18" lengthAdjust="spacingAndGlyphs">10</text>
<line x1="482.05" y1="106.8" x2="482.05" y2="109.6" stroke="#000" stroke-width="1"/>
<text x="482.05" y="116.2" font-size="7" font-weight="bold" text-anchor="middle" textLength="7.18" lengthAdjust="spacingAndGlyphs">15</text>
<line x1="516.4" y1="106.8" x2="516.4" y2="109.6" stroke="#000" stroke-width="1"/>
<text x="516.4" y="116.2" font-size="7" font-weight="bold" text-anchor="middle" textLength="7.18" lengthAdjust="spacingAndGlyphs">20</text>
<text x="361.8" y="60.85" font-size="7.2" font-weight="bold" text-anchor="middle" textLength="56.7" lengthAdjust="spacingAndGlyphs" transform="rotate(-90 361.8 60.85)">Normalized FPA</text>
<text x="447.7" y="126.5" font-size="7.7" font-weight="bold" text-anchor="middle" textLength="36.5" lengthAdjust="spacingAndGlyphs">Time (min)</text>
<line x1="400.3" y1="108.9" x2="400.3" y2="115" stroke="#000" stroke-width="0.75" stroke-dasharray="1.6 0.35"/>
<path d="M400.3 107.9L401.4 109.8H399.2Z" fill="#000"/>
<path d="M400.1 114.6L402 116.5L400.1 118.4L398.2 116.5Z" fill="#000"/>
<rect x="398.4" y="119.8" width="3" height="3" fill="#000"/>
<text x="391.6" y="118.2" font-size="2.8" font-weight="bold" textLength="4" lengthAdjust="spacingAndGlyphs" style="stroke-width:0">CT</text>
<text x="89.3" y="148.5" font-size="11.2" font-weight="bold" textLength="7.8" lengthAdjust="spacingAndGlyphs">D</text>
<polyline points="111.5,245.6 118.34,242.26 125.19,228.3 132.03,209.79 138.88,193.09 145.72,186.72 152.57,185.2 159.41,185.81 166.26,189.45 173.1,193.09 179.95,197.34 193.64,204.63 207.33,210.09 221.02,215.25 248.4,222.23" fill="none" stroke="#000" stroke-width="1.5" stroke-linejoin="round"/>
<polyline points="111.5,245.6 118.34,242.87 125.19,231.34 132.03,214.95 138.88,202.81 145.72,191.88 152.57,188.24 159.41,185.2 166.26,185.2 173.1,191.58 179.95,193.7 193.64,200.38 207.33,215.86 221.02,210.09 248.4,218.44" fill="none" stroke="#000" stroke-width="1.5" stroke-linejoin="round"/>
<path d="M118.34 241.05V243.48M116.84 241.05H119.84M116.84 243.48H119.84" stroke="#000" stroke-width="1.05" fill="none"/>
<path d="M125.19 223.75V232.85M123.69 223.75H126.69M123.69 232.85H126.69" stroke="#000" stroke-width="1.05" fill="none"/>
<path d="M132.03 204.93V214.64M130.53 204.93H133.53M130.53 214.64H133.53" stroke="#000" stroke-width="1.05" fill="none"/>
<path d="M138.88 185.2V200.99M137.38 185.2H140.38M137.38 200.99H140.38" stroke="#000" stroke-width="1.05" fill="none"/>
<path d="M145.72 174.58V198.86M144.22 174.58H147.22M144.22 198.86H147.22" stroke="#000" stroke-width="1.05" fill="none"/>
<path d="M152.57 172.76V197.65M151.07 172.76H154.07M151.07 197.65H154.07" stroke="#000" stroke-width="1.05" fill="none"/>
<path d="M159.41 174.28V197.34M157.91 174.28H160.91M157.91 197.34H160.91" stroke="#000" stroke-width="1.05" fill="none"/>
<path d="M166.26 179.74V199.16M164.76 179.74H167.76M164.76 199.16H167.76" stroke="#000" stroke-width="1.05" fill="none"/>
<path d="M173.1 184.29V201.9M171.6 184.29H174.6M171.6 201.9H174.6" stroke="#000" stroke-width="1.05" fill="none"/>
<path d="M179.95 187.63V207.06M178.45 187.63H181.45M178.45 207.06H181.45" stroke="#000" stroke-width="1.05" fill="none"/>
<path d="M193.64 197.95V211.3M192.14 197.95H195.14M192.14 211.3H195.14" stroke="#000" stroke-width="1.05" fill="none"/>
<path d="M207.33 205.23V214.95M205.83 205.23H208.83M205.83 214.95H208.83" stroke="#000" stroke-width="1.05" fill="none"/>
<path d="M221.02 212.21V218.28M219.52 212.21H222.52M219.52 218.28H222.52" stroke="#000" stroke-width="1.05" fill="none"/>
<path d="M248.4 218.89V225.57M246.9 218.89H249.9M246.9 225.57H249.9" stroke="#000" stroke-width="1.05" fill="none"/>
<path d="M118.34 241.96V243.78M116.84 241.96H119.84M116.84 243.78H119.84" stroke="#000" stroke-width="1.05" fill="none"/>
<path d="M125.19 226.48V236.19M123.69 226.48H126.69M123.69 236.19H126.69" stroke="#000" stroke-width="1.05" fill="none"/>
<path d="M132.03 208.88V221.02M130.53 208.88H133.53M130.53 221.02H133.53" stroke="#000" stroke-width="1.05" fill="none"/>
<path d="M138.88 197.34V208.27M137.38 197.34H140.38M137.38 208.27H140.38" stroke="#000" stroke-width="1.05" fill="none"/>
<path d="M145.72 182.78V200.99M144.22 182.78H147.22M144.22 200.99H147.22" stroke="#000" stroke-width="1.05" fill="none"/>
<path d="M152.57 179.13V197.34M151.07 179.13H154.07M151.07 197.34H154.07" stroke="#000" stroke-width="1.05" fill="none"/>
<path d="M159.41 174.58V195.83M157.91 174.58H160.91M157.91 195.83H160.91" stroke="#000" stroke-width="1.05" fill="none"/>
<path d="M166.26 180.35V190.06M164.76 180.35H167.76M164.76 190.06H167.76" stroke="#000" stroke-width="1.05" fill="none"/>
<path d="M173.1 183.99V199.16M171.6 183.99H174.6M171.6 199.16H174.6" stroke="#000" stroke-width="1.05" fill="none"/>
<path d="M179.95 187.63V199.77M178.45 187.63H181.45M178.45 199.77H181.45" stroke="#000" stroke-width="1.05" fill="none"/>
<path d="M193.64 196.43V204.32M192.14 196.43H195.14M192.14 204.32H195.14" stroke="#000" stroke-width="1.05" fill="none"/>
<path d="M207.33 207.66V224.05M205.83 207.66H208.83M205.83 224.05H208.83" stroke="#000" stroke-width="1.05" fill="none"/>
<path d="M221.02 204.93V215.25M219.52 204.93H222.52M219.52 215.25H222.52" stroke="#000" stroke-width="1.05" fill="none"/>
<path d="M248.4 213.88V222.99M246.9 213.88H249.9M246.9 222.99H249.9" stroke="#000" stroke-width="1.05" fill="none"/>
<rect x="109.5" y="243.6" width="4" height="4" fill="#000"/>
<rect x="116.34" y="240.26" width="4" height="4" fill="#000"/>
<rect x="123.19" y="226.3" width="4" height="4" fill="#000"/>
<rect x="130.03" y="207.79" width="4" height="4" fill="#000"/>
<rect x="136.88" y="191.09" width="4" height="4" fill="#000"/>
<rect x="143.72" y="184.72" width="4" height="4" fill="#000"/>
<rect x="150.57" y="183.2" width="4" height="4" fill="#000"/>
<rect x="157.41" y="183.81" width="4" height="4" fill="#000"/>
<rect x="164.26" y="187.45" width="4" height="4" fill="#000"/>
<rect x="171.1" y="191.09" width="4" height="4" fill="#000"/>
<rect x="177.95" y="195.34" width="4" height="4" fill="#000"/>
<rect x="191.64" y="202.63" width="4" height="4" fill="#000"/>
<rect x="205.33" y="208.09" width="4" height="4" fill="#000"/>
<rect x="219.02" y="213.25" width="4" height="4" fill="#000"/>
<rect x="246.4" y="220.23" width="4" height="4" fill="#000"/>
<path d="M111.5 243.1L114 245.6L111.5 248.1L109 245.6Z" fill="#000"/>
<path d="M118.34 240.37L120.84 242.87L118.34 245.37L115.84 242.87Z" fill="#000"/>
<path d="M125.19 228.84L127.69 231.34L125.19 233.84L122.69 231.34Z" fill="#000"/>
<path d="M132.03 212.45L134.53 214.95L132.03 217.45L129.53 214.95Z" fill="#000"/>
<path d="M138.88 200.31L141.38 202.81L138.88 205.31L136.38 202.81Z" fill="#000"/>
<path d="M145.72 189.38L148.22 191.88L145.72 194.38L143.22 191.88Z" fill="#000"/>
<path d="M152.57 185.74L155.07 188.24L152.57 190.74L150.07 188.24Z" fill="#000"/>
<path d="M159.41 182.7L161.91 185.2L159.41 187.7L156.91 185.2Z" fill="#000"/>
<path d="M166.26 182.7L168.76 185.2L166.26 187.7L163.76 185.2Z" fill="#000"/>
<path d="M173.1 189.08L175.6 191.58L173.1 194.08L170.6 191.58Z" fill="#000"/>
<path d="M179.95 191.2L182.45 193.7L179.95 196.2L177.45 193.7Z" fill="#000"/>
<path d="M193.64 197.88L196.14 200.38L193.64 202.88L191.14 200.38Z" fill="#000"/>
<path d="M207.33 213.36L209.83 215.86L207.33 218.36L204.83 215.86Z" fill="#000"/>
<path d="M221.02 207.59L223.52 210.09L221.02 212.59L218.52 210.09Z" fill="#000"/>
<path d="M248.4 215.94L250.9 218.44L248.4 220.94L245.9 218.44Z" fill="#000"/>
<path d="M111.5 154.05V246.2M110.9 245.6H248.9" stroke="#000" stroke-width="1.3" fill="none"/>
<line x1="107.7" y1="245.6" x2="111.5" y2="245.6" stroke="#000" stroke-width="1"/>
<text x="107.9" y="248.05" font-size="7" font-weight="bold" text-anchor="end" textLength="3.89" lengthAdjust="spacingAndGlyphs">0</text>
<line x1="107.7" y1="215.25" x2="111.5" y2="215.25" stroke="#000" stroke-width="1"/>
<text x="107.9" y="217.7" font-size="7" font-weight="bold" text-anchor="end" textLength="7.18" lengthAdjust="spacingAndGlyphs">10</text>
<line x1="107.7" y1="184.9" x2="111.5" y2="184.9" stroke="#000" stroke-width="1"/>
<text x="107.9" y="187.35" font-size="7" font-weight="bold" text-anchor="end" textLength="7.18" lengthAdjust="spacingAndGlyphs">20</text>
<line x1="107.7" y1="154.55" x2="111.5" y2="154.55" stroke="#000" stroke-width="1"/>
<text x="107.9" y="157" font-size="7" font-weight="bold" text-anchor="end" textLength="7.18" lengthAdjust="spacingAndGlyphs">30</text>
<line x1="111.5" y1="245.6" x2="111.5" y2="248.8" stroke="#000" stroke-width="1"/>
<text x="111.5" y="255.3" font-size="7" font-weight="bold" text-anchor="middle" textLength="3.89" lengthAdjust="spacingAndGlyphs">0</text>
<line x1="145.72" y1="245.6" x2="145.72" y2="248.8" stroke="#000" stroke-width="1"/>
<text x="145.72" y="255.3" font-size="7" font-weight="bold" text-anchor="middle" textLength="3.89" lengthAdjust="spacingAndGlyphs">5</text>
<line x1="179.95" y1="245.6" x2="179.95" y2="248.8" stroke="#000" stroke-width="1"/>
<text x="179.95" y="255.3" font-size="7" font-weight="bold" text-anchor="middle" textLength="7.18" lengthAdjust="spacingAndGlyphs">10</text>
<line x1="214.18" y1="245.6" x2="214.18" y2="248.8" stroke="#000" stroke-width="1"/>
<text x="214.18" y="255.3" font-size="7" font-weight="bold" text-anchor="middle" textLength="7.18" lengthAdjust="spacingAndGlyphs">15</text>
<line x1="248.4" y1="245.6" x2="248.4" y2="248.8" stroke="#000" stroke-width="1"/>
<text x="248.4" y="255.3" font-size="7" font-weight="bold" text-anchor="middle" textLength="7.18" lengthAdjust="spacingAndGlyphs">20</text>
<text x="96.7" y="200.35" font-size="7.1" font-weight="bold" text-anchor="middle" textLength="42.1" lengthAdjust="spacingAndGlyphs" transform="rotate(-90 96.7 200.35)">fVa HC (nM)</text>
<text x="180.15" y="265.6" font-size="7.1" font-weight="bold" text-anchor="middle" textLength="35.6" lengthAdjust="spacingAndGlyphs">Time (min)</text>
<line x1="137.1" y1="248.4" x2="137.1" y2="258.7" stroke="#000" stroke-width="1.5"/>
<path d="M137.1 246.4L139 249.6H135.2Z" fill="#000"/>
<path d="M136.3 260L139.8 263.5L136.3 267L132.8 263.5Z" fill="#000"/>
<rect x="133.1" y="270" width="6" height="5.6" fill="#000"/>
<text x="120" y="267.5" font-size="6.5" font-weight="bold" textLength="8.7" lengthAdjust="spacingAndGlyphs">CT</text>
<polyline points="291.7,245 293.43,245 295.16,245 296.89,245 298.62,245 300.35,245 302.07,245 303.8,245 305.53,245 307.26,245 308.99,245 310.72,245 312.45,245 314.18,245 315.91,245 317.64,245 319.37,245 321.09,245 322.82,245 324.55,245 326.28,245 328.01,245 329.74,245 331.47,245 333.2,245 334.93,244.96 336.66,244.88 338.39,244.78 340.12,244.65 341.84,244.42 343.57,244.1 345.3,243.73 347.03,243.33 348.76,242.85 350.49,242.3 352.22,241.71 353.95,241.1 355.68,240.44 357.41,239.73 359.14,239.02 360.86,238.32 362.59,237.62 364.32,236.92 366.05,236.21 367.78,235.51 369.51,234.82 371.24,234.14 372.97,233.49 374.7,232.87 376.43,232.24 378.16,231.63 379.88,231.02 381.61,230.44 383.34,229.88 385.07,229.35 386.8,228.86 388.53,228.4 390.26,227.96 391.99,227.53 393.72,227.12 395.45,226.73 397.18,226.38 398.91,226.05 400.63,225.76 402.36,225.49 404.09,225.23 405.82,224.98 407.55,224.73 409.28,224.49 411.01,224.26 412.74,224.03 414.47,223.82 416.2,223.62 417.93,223.44 419.65,223.27 421.38,223.11 423.11,222.98 424.84,222.86 426.57,222.76 428.3,222.69" fill="none" stroke="#000" stroke-width="1.3" stroke-linejoin="round"/>
<polyline points="291.7,245 293.43,245 295.16,245 296.89,245 298.62,245 300.35,245 302.07,245 303.8,245 305.53,245 307.26,245 308.99,245 310.72,245 312.45,245 314.18,245 315.91,245 317.64,245 319.37,245 321.09,245 322.82,245 324.55,245 326.28,245 328.01,245 329.74,245 331.47,245 333.2,245 334.93,244.96 336.66,244.9 338.39,244.82 340.12,244.72 341.84,244.59 343.57,244.42 345.3,244.22 347.03,244 348.76,243.74 350.49,243.43 352.22,243.08 353.95,242.71 355.68,242.33 357.41,241.94 359.14,241.57 360.86,241.2 362.59,240.82 364.32,240.44 366.05,240.05 367.78,239.66 369.51,239.27 371.24,238.89 372.97,238.51 374.7,238.15 376.43,237.79 378.16,237.44 379.88,237.09 381.61,236.75 383.34,236.41 385.07,236.08 386.8,235.75 388.53,235.42 390.26,235.09 391.99,234.76 393.72,234.43 395.45,234.12 397.18,233.82 398.91,233.54 400.63,233.29 402.36,233.06 404.09,232.84 405.82,232.62 407.55,232.41 409.28,232.2 411.01,232 412.74,231.8 414.47,231.62 416.2,231.44 417.93,231.27 419.65,231.12 421.38,230.97 423.11,230.84 424.84,230.72 426.57,230.62 428.3,230.53" fill="none" stroke="#000" stroke-width="1.3" stroke-linejoin="round"/>
<path d="M346.34 242.59V244.4M344.84 242.59H347.84M344.84 244.4H347.84" stroke="#000" stroke-width="1.05" fill="none"/>
<path d="M353.17 237.31V242.14M351.67 237.31H354.67M351.67 242.14H354.67" stroke="#000" stroke-width="1.05" fill="none"/>
<path d="M360 234.75V240.18M358.5 234.75H361.5M358.5 240.18H361.5" stroke="#000" stroke-width="1.05" fill="none"/>
<path d="M373.66 230.23V236.86M372.16 230.23H375.16M372.16 236.86H375.16" stroke="#000" stroke-width="1.05" fill="none"/>
<path d="M387.32 225.7V234.75M385.82 225.7H388.82M385.82 234.75H388.82" stroke="#000" stroke-width="1.05" fill="none"/>
<path d="M400.98 220.88V231.73M399.48 220.88H402.48M399.48 231.73H402.48" stroke="#000" stroke-width="1.05" fill="none"/>
<path d="M428.3 216.06V228.12M426.8 216.06H429.8M426.8 228.12H429.8" stroke="#000" stroke-width="1.05" fill="none"/>
<path d="M346.34 243.49V244.7M344.84 243.49H347.84M344.84 244.7H347.84" stroke="#000" stroke-width="1.05" fill="none"/>
<path d="M353.17 240.48V243.49M351.67 240.48H354.67M351.67 243.49H354.67" stroke="#000" stroke-width="1.05" fill="none"/>
<path d="M360 238.97V242.59M358.5 238.97H361.5M358.5 242.59H361.5" stroke="#000" stroke-width="1.05" fill="none"/>
<path d="M373.66 235.96V240.78M372.16 235.96H375.16M372.16 240.78H375.16" stroke="#000" stroke-width="1.05" fill="none"/>
<path d="M387.32 234.75V241.99M385.82 234.75H388.82M385.82 241.99H388.82" stroke="#000" stroke-width="1.05" fill="none"/>
<path d="M400.98 229.93V235.96M399.48 229.93H402.48M399.48 235.96H402.48" stroke="#000" stroke-width="1.05" fill="none"/>
<path d="M428.3 226.91V233.54M426.8 226.91H429.8M426.8 233.54H429.8" stroke="#000" stroke-width="1.05" fill="none"/>
<rect x="289.7" y="243" width="4" height="4" fill="#000"/>
<rect x="296.53" y="243" width="4" height="4" fill="#000"/>
<rect x="303.36" y="243" width="4" height="4" fill="#000"/>
<rect x="310.19" y="243" width="4" height="4" fill="#000"/>
<rect x="317.02" y="243" width="4" height="4" fill="#000"/>
<rect x="323.85" y="243" width="4" height="4" fill="#000"/>
<rect x="330.68" y="243" width="4" height="4" fill="#000"/>
<rect x="337.51" y="242.7" width="4" height="4" fill="#000"/>
<rect x="344.34" y="241.49" width="4" height="4" fill="#000"/>
<rect x="351.17" y="237.72" width="4" height="4" fill="#000"/>
<rect x="358" y="235.46" width="4" height="4" fill="#000"/>
<rect x="371.66" y="231.54" width="4" height="4" fill="#000"/>
<rect x="385.32" y="228.23" width="4" height="4" fill="#000"/>
<rect x="398.98" y="224.31" width="4" height="4" fill="#000"/>
<rect x="426.3" y="220.09" width="4" height="4" fill="#000"/>
<path d="M291.7 242.5L294.2 245L291.7 247.5L289.2 245Z" fill="#000"/>
<path d="M298.53 242.5L301.03 245L298.53 247.5L296.03 245Z" fill="#000"/>
<path d="M305.36 242.5L307.86 245L305.36 247.5L302.86 245Z" fill="#000"/>
<path d="M312.19 242.5L314.69 245L312.19 247.5L309.69 245Z" fill="#000"/>
<path d="M319.02 242.5L321.52 245L319.02 247.5L316.52 245Z" fill="#000"/>
<path d="M325.85 242.5L328.35 245L325.85 247.5L323.35 245Z" fill="#000"/>
<path d="M332.68 242.5L335.18 245L332.68 247.5L330.18 245Z" fill="#000"/>
<path d="M339.51 242.35L342.01 244.85L339.51 247.35L337.01 244.85Z" fill="#000"/>
<path d="M346.34 241.6L348.84 244.1L346.34 246.6L343.84 244.1Z" fill="#000"/>
<path d="M353.17 239.49L355.67 241.99L353.17 244.49L350.67 241.99Z" fill="#000"/>
<path d="M360 238.28L362.5 240.78L360 243.28L357.5 240.78Z" fill="#000"/>
<path d="M373.66 235.87L376.16 238.37L373.66 240.87L371.16 238.37Z" fill="#000"/>
<path d="M387.32 235.87L389.82 238.37L387.32 240.87L384.82 238.37Z" fill="#000"/>
<path d="M400.98 230.44L403.48 232.94L400.98 235.44L398.48 232.94Z" fill="#000"/>
<path d="M428.3 227.73L430.8 230.23L428.3 232.73L425.8 230.23Z" fill="#000"/>
<path d="M291.7 154.05V245.6M291.1 245H428.8" stroke="#000" stroke-width="1.3" fill="none"/>
<line x1="287.9" y1="245" x2="291.7" y2="245" stroke="#000" stroke-width="1"/>
<text x="288.1" y="247.45" font-size="7" font-weight="bold" text-anchor="end" textLength="3.89" lengthAdjust="spacingAndGlyphs">0</text>
<line x1="287.9" y1="214.85" x2="291.7" y2="214.85" stroke="#000" stroke-width="1"/>
<text x="288.1" y="217.3" font-size="7" font-weight="bold" text-anchor="end" textLength="7.18" lengthAdjust="spacingAndGlyphs">10</text>
<line x1="287.9" y1="184.7" x2="291.7" y2="184.7" stroke="#000" stroke-width="1"/>
<text x="288.1" y="187.15" font-size="7" font-weight="bold" text-anchor="end" textLength="7.18" lengthAdjust="spacingAndGlyphs">20</text>
<line x1="287.9" y1="154.55" x2="291.7" y2="154.55" stroke="#000" stroke-width="1"/>
<text x="288.1" y="157" font-size="7" font-weight="bold" text-anchor="end" textLength="7.18" lengthAdjust="spacingAndGlyphs">30</text>
<line x1="291.7" y1="245" x2="291.7" y2="248.2" stroke="#000" stroke-width="1"/>
<text x="291.7" y="254.7" font-size="7" font-weight="bold" text-anchor="middle" textLength="3.89" lengthAdjust="spacingAndGlyphs">0</text>
<line x1="325.85" y1="245" x2="325.85" y2="248.2" stroke="#000" stroke-width="1"/>
<text x="325.85" y="254.7" font-size="7" font-weight="bold" text-anchor="middle" textLength="3.89" lengthAdjust="spacingAndGlyphs">5</text>
<line x1="360" y1="245" x2="360" y2="248.2" stroke="#000" stroke-width="1"/>
<text x="360" y="254.7" font-size="7" font-weight="bold" text-anchor="middle" textLength="7.18" lengthAdjust="spacingAndGlyphs">10</text>
<line x1="394.15" y1="245" x2="394.15" y2="248.2" stroke="#000" stroke-width="1"/>
<text x="394.15" y="254.7" font-size="7" font-weight="bold" text-anchor="middle" textLength="7.18" lengthAdjust="spacingAndGlyphs">15</text>
<line x1="428.3" y1="245" x2="428.3" y2="248.2" stroke="#000" stroke-width="1"/>
<text x="428.3" y="254.7" font-size="7" font-weight="bold" text-anchor="middle" textLength="7.18" lengthAdjust="spacingAndGlyphs">20</text>
<text x="267.6" y="199.5" font-size="7" font-weight="bold" text-anchor="middle" textLength="58.2" lengthAdjust="spacingAndGlyphs" transform="rotate(-90 267.6 199.5)">fVa 307-506 (nM)</text>
<text x="360" y="264.4" font-size="7.1" font-weight="bold" text-anchor="middle" textLength="35.9" lengthAdjust="spacingAndGlyphs">Time (min)</text>
<line x1="317.1" y1="247.9" x2="317.1" y2="258.5" stroke="#000" stroke-width="1.5"/>
<path d="M317.1 245.9L319 249.1H315.2Z" fill="#000"/>
<path d="M316.3 259.8L319.8 263.3L316.3 266.8L312.8 263.3Z" fill="#000"/>
<rect x="313.1" y="269.9" width="6" height="5.6" fill="#000"/>
<text x="300" y="267.5" font-size="6.5" font-weight="bold" textLength="8.7" lengthAdjust="spacingAndGlyphs">CT</text>
<defs><filter id="b1" x="-30%" y="-60%" width="160%" height="220%"><feGaussianBlur stdDeviation="0.8"/></filter><filter id="b2" x="-30%" y="-80%" width="160%" height="260%"><feGaussianBlur stdDeviation="1.5"/></filter><filter id="b3" x="-10%" y="-100%" width="120%" height="300%"><feGaussianBlur stdDeviation="2.2"/></filter><clipPath id="g1a"><rect x="188" y="291.6" width="171" height="14.1"/></clipPath><clipPath id="g1b"><rect x="188" y="307.6" width="171" height="13.9"/></clipPath><clipPath id="g1c"><rect x="188" y="324.8" width="171" height="13.7"/></clipPath><clipPath id="g2a"><rect x="188" y="354.7" width="171" height="15.1"/></clipPath><clipPath id="g2b"><rect x="188" y="372.8" width="171" height="16.7"/></clipPath><clipPath id="g2c"><rect x="188" y="392.5" width="171" height="15"/></clipPath></defs>
<text x="195.3" y="288.7" font-size="7.2" text-anchor="middle" textLength="4" lengthAdjust="spacingAndGlyphs" style="stroke-width:.06px">0</text>
<text x="207.1" y="288.7" font-size="7.2" text-anchor="middle" textLength="4" lengthAdjust="spacingAndGlyphs" style="stroke-width:.06px">1</text>
<text x="218.9" y="288.7" font-size="7.2" text-anchor="middle" textLength="4" lengthAdjust="spacingAndGlyphs" style="stroke-width:.06px">2</text>
<text x="230.6" y="288.7" font-size="7.2" text-anchor="middle" textLength="4" lengthAdjust="spacingAndGlyphs" style="stroke-width:.06px">3</text>
<text x="241.9" y="288.7" font-size="7.2" text-anchor="middle" textLength="4" lengthAdjust="spacingAndGlyphs" style="stroke-width:.06px">4</text>
<text x="253.2" y="288.7" font-size="7.2" text-anchor="middle" textLength="4" lengthAdjust="spacingAndGlyphs" style="stroke-width:.06px">5</text>
<text x="263.6" y="288.7" font-size="7.2" text-anchor="middle" textLength="4" lengthAdjust="spacingAndGlyphs" style="stroke-width:.06px">6</text>
<text x="274.6" y="288.7" font-size="7.2" text-anchor="middle" textLength="4" lengthAdjust="spacingAndGlyphs" style="stroke-width:.06px">7</text>
<text x="286.6" y="288.7" font-size="7.2" text-anchor="middle" textLength="4" lengthAdjust="spacingAndGlyphs" style="stroke-width:.06px">8</text>
<text x="298.3" y="288.7" font-size="7.2" text-anchor="middle" textLength="4" lengthAdjust="spacingAndGlyphs" style="stroke-width:.06px">9</text>
<text x="309.6" y="288.7" font-size="7.2" text-anchor="middle" textLength="7.31" lengthAdjust="spacingAndGlyphs" style="stroke-width:.06px">10</text>
<text x="321.7" y="288.7" font-size="7.2" text-anchor="middle" textLength="7.31" lengthAdjust="spacingAndGlyphs" style="stroke-width:.06px">12</text>
<text x="331.6" y="288.7" font-size="7.2" text-anchor="middle" textLength="7.31" lengthAdjust="spacingAndGlyphs" style="stroke-width:.06px">14</text>
<text x="343.5" y="288.7" font-size="7.2" text-anchor="middle" textLength="7.31" lengthAdjust="spacingAndGlyphs" style="stroke-width:.06px">16</text>
<text x="354.4" y="288.7" font-size="7.2" text-anchor="middle" textLength="7.31" lengthAdjust="spacingAndGlyphs" style="stroke-width:.06px">20</text>
<rect x="188" y="291.6" width="171" height="14.1" fill="#e6e6e6"/>
<rect x="188" y="307.6" width="171" height="13.9" fill="#e4e4e4"/>
<rect x="188" y="324.8" width="171" height="13.7" fill="#ededed"/>
<g clip-path="url(#g1a)">
<rect x="212" y="294" width="150" height="10" fill="#000" opacity="0.26" filter="url(#b3)"/>
<rect x="200.39" y="296.85" width="12" height="3" rx="1.5" fill="#000" opacity="0.25" filter="url(#b1)"/>
<rect x="211.78" y="296.2" width="12" height="4.4" rx="2.2" fill="#000" opacity="0.95" filter="url(#b1)"/>
<rect x="223.17" y="295.15" width="12" height="6.6" rx="3.3" fill="#000" opacity="1" filter="url(#b1)"/>
<rect x="223.57" y="296.14" width="11.2" height="4.62" rx="2.31" fill="#000" opacity="1" filter="url(#b1)"/>
<rect x="234.56" y="295" width="12" height="7" rx="3.5" fill="#000" opacity="1" filter="url(#b1)"/>
<rect x="234.96" y="296.05" width="11.2" height="4.9" rx="2.45" fill="#000" opacity="1" filter="url(#b1)"/>
<rect x="245.95" y="295.15" width="12" height="6.8" rx="3.4" fill="#000" opacity="1" filter="url(#b1)"/>
<rect x="246.35" y="296.17" width="11.2" height="4.76" rx="2.38" fill="#000" opacity="1" filter="url(#b1)"/>
<rect x="257.34" y="295.4" width="12" height="6.4" rx="3.2" fill="#000" opacity="1" filter="url(#b1)"/>
<rect x="257.74" y="296.36" width="11.2" height="4.48" rx="2.24" fill="#000" opacity="1" filter="url(#b1)"/>
<rect x="268.73" y="295.65" width="12" height="6" rx="3" fill="#000" opacity="1" filter="url(#b1)"/>
<rect x="269.13" y="296.55" width="11.2" height="4.2" rx="2.1" fill="#000" opacity="1" filter="url(#b1)"/>
<rect x="280.12" y="295.9" width="12" height="5.6" rx="2.8" fill="#000" opacity="1" filter="url(#b1)"/>
<rect x="280.52" y="296.74" width="11.2" height="3.92" rx="1.96" fill="#000" opacity="1" filter="url(#b1)"/>
<rect x="291.51" y="296.15" width="12" height="5.2" rx="2.6" fill="#000" opacity="1" filter="url(#b1)"/>
<rect x="291.91" y="296.93" width="11.2" height="3.64" rx="1.82" fill="#000" opacity="1" filter="url(#b1)"/>
<rect x="303.3" y="296.5" width="11.2" height="4.6" rx="2.3" fill="#000" opacity="0.97" filter="url(#b1)"/>
<rect x="314.69" y="296.75" width="11.2" height="4.2" rx="2.1" fill="#000" opacity="0.95" filter="url(#b1)"/>
<rect x="326.08" y="296.9" width="11.2" height="4" rx="2" fill="#000" opacity="0.93" filter="url(#b1)"/>
<rect x="337.47" y="296.95" width="11.2" height="4" rx="2" fill="#000" opacity="0.93" filter="url(#b1)"/>
<rect x="348.86" y="296.8" width="11.2" height="4.4" rx="2.2" fill="#000" opacity="0.95" filter="url(#b1)"/>
</g>
<g clip-path="url(#g1b)">
<rect x="188" y="307.5" width="174" height="8" fill="#000" opacity="0.06" filter="url(#b3)"/>
<rect x="250" y="311.5" width="112" height="6" fill="#000" opacity="0.08" filter="url(#b3)"/>
<rect x="222.42" y="314.5" width="13.5" height="3" rx="1.5" fill="#000" opacity="0.05" filter="url(#b1)"/>
<rect x="233.81" y="314.5" width="13.5" height="3" rx="1.5" fill="#000" opacity="0.11" filter="url(#b1)"/>
<rect x="245.2" y="314.5" width="13.5" height="3" rx="1.5" fill="#000" opacity="0.13" filter="url(#b1)"/>
<rect x="256.59" y="314.3" width="13.5" height="3" rx="1.5" fill="#000" opacity="0.19" filter="url(#b1)"/>
<rect x="267.98" y="314.1" width="13.5" height="3" rx="1.5" fill="#000" opacity="0.3" filter="url(#b1)"/>
<rect x="279.37" y="313.7" width="13.5" height="3" rx="1.5" fill="#000" opacity="0.4" filter="url(#b1)"/>
<rect x="290.76" y="312.7" width="13.5" height="3" rx="1.5" fill="#000" opacity="0.59" filter="url(#b1)"/>
<rect x="302.15" y="312.5" width="13.5" height="3" rx="1.5" fill="#000" opacity="0.66" filter="url(#b1)"/>
<rect x="313.54" y="312.9" width="13.5" height="3" rx="1.5" fill="#000" opacity="0.71" filter="url(#b1)"/>
<rect x="324.93" y="312.9" width="13.5" height="3" rx="1.5" fill="#000" opacity="0.71" filter="url(#b1)"/>
<rect x="336.32" y="312.7" width="13.5" height="3" rx="1.5" fill="#000" opacity="0.85" filter="url(#b1)"/>
<rect x="347.71" y="312.1" width="13.5" height="3" rx="1.5" fill="#000" opacity="0.9" filter="url(#b1)"/>
</g>
<g clip-path="url(#g1c)">
<rect x="270.73" y="332.7" width="8" height="3" rx="1.5" fill="#000" opacity="0.03" filter="url(#b2)"/>
<rect x="282.12" y="332.7" width="8" height="3" rx="1.5" fill="#000" opacity="0.05" filter="url(#b2)"/>
<rect x="293.51" y="332.7" width="8" height="3" rx="1.5" fill="#000" opacity="0.07" filter="url(#b2)"/>
<rect x="304.9" y="332.7" width="8" height="3" rx="1.5" fill="#000" opacity="0.16" filter="url(#b2)"/>
<rect x="316.29" y="332.7" width="8" height="3" rx="1.5" fill="#000" opacity="0.23" filter="url(#b2)"/>
<rect x="327.68" y="332.7" width="8" height="3" rx="1.5" fill="#000" opacity="0.28" filter="url(#b2)"/>
<rect x="339.07" y="332.7" width="8" height="3" rx="1.5" fill="#000" opacity="0.37" filter="url(#b2)"/>
<rect x="350.46" y="332.7" width="8" height="3" rx="1.5" fill="#000" opacity="0.48" filter="url(#b2)"/>
</g>
<text x="366" y="312" font-size="9.2" textLength="11" lengthAdjust="spacingAndGlyphs">rTf</text>
<text x="366" y="323" font-size="9.2" textLength="46" lengthAdjust="spacingAndGlyphs">Bare Tubes</text>
<rect x="420.35" y="308.45" width="5.3" height="5.3" fill="#000"/>
<text x="184.2" y="302" font-size="8.3" text-anchor="end" textLength="25.3" lengthAdjust="spacingAndGlyphs">fVa HC</text>
<text x="184.2" y="317" font-size="8.3" text-anchor="end" textLength="34.4" lengthAdjust="spacingAndGlyphs">fVa 1-506</text>
<text x="184.2" y="334.9" font-size="8.3" text-anchor="end" textLength="43" lengthAdjust="spacingAndGlyphs">fVa 307-506</text>
<text x="195.3" y="352" font-size="7.2" text-anchor="middle" textLength="4" lengthAdjust="spacingAndGlyphs" style="stroke-width:.06px">0</text>
<text x="207.1" y="352" font-size="7.2" text-anchor="middle" textLength="4" lengthAdjust="spacingAndGlyphs" style="stroke-width:.06px">1</text>
<text x="218.9" y="352" font-size="7.2" text-anchor="middle" textLength="4" lengthAdjust="spacingAndGlyphs" style="stroke-width:.06px">2</text>
<text x="230.6" y="352" font-size="7.2" text-anchor="middle" textLength="4" lengthAdjust="spacingAndGlyphs" style="stroke-width:.06px">3</text>
<text x="241.9" y="352" font-size="7.2" text-anchor="middle" textLength="4" lengthAdjust="spacingAndGlyphs" style="stroke-width:.06px">4</text>
<text x="253.2" y="352" font-size="7.2" text-anchor="middle" textLength="4" lengthAdjust="spacingAndGlyphs" style="stroke-width:.06px">5</text>
<text x="263.6" y="352" font-size="7.2" text-anchor="middle" textLength="4" lengthAdjust="spacingAndGlyphs" style="stroke-width:.06px">6</text>
<text x="274.6" y="352" font-size="7.2" text-anchor="middle" textLength="4" lengthAdjust="spacingAndGlyphs" style="stroke-width:.06px">7</text>
<text x="286.6" y="352" font-size="7.2" text-anchor="middle" textLength="4" lengthAdjust="spacingAndGlyphs" style="stroke-width:.06px">8</text>
<text x="298.3" y="352" font-size="7.2" text-anchor="middle" textLength="4" lengthAdjust="spacingAndGlyphs" style="stroke-width:.06px">9</text>
<text x="309.6" y="352" font-size="7.2" text-anchor="middle" textLength="7.31" lengthAdjust="spacingAndGlyphs" style="stroke-width:.06px">10</text>
<text x="321.7" y="352" font-size="7.2" text-anchor="middle" textLength="7.31" lengthAdjust="spacingAndGlyphs" style="stroke-width:.06px">12</text>
<text x="331.6" y="352" font-size="7.2" text-anchor="middle" textLength="7.31" lengthAdjust="spacingAndGlyphs" style="stroke-width:.06px">14</text>
<text x="343.5" y="352" font-size="7.2" text-anchor="middle" textLength="7.31" lengthAdjust="spacingAndGlyphs" style="stroke-width:.06px">16</text>
<text x="354.4" y="352" font-size="7.2" text-anchor="middle" textLength="7.31" lengthAdjust="spacingAndGlyphs" style="stroke-width:.06px">20</text>
<rect x="188" y="354.7" width="171" height="15.1" fill="#eaeaea"/>
<rect x="188" y="372.8" width="171" height="16.7" fill="#dedede"/>
<rect x="188" y="392.5" width="171" height="15" fill="#f1f1f1"/>
<g clip-path="url(#g2a)">
<rect x="224" y="359" width="138" height="8" fill="#000" opacity="0.18" filter="url(#b3)"/>
<rect x="201.5" y="360.76" width="9.6" height="3" rx="1.5" fill="#000" opacity="0.16" filter="url(#b1)"/>
<rect x="212.8" y="360.82" width="9.6" height="3" rx="1.5" fill="#000" opacity="0.22" filter="url(#b1)"/>
<rect x="224.1" y="360.48" width="9.6" height="3.8" rx="1.9" fill="#000" opacity="0.92" filter="url(#b1)"/>
<rect x="234.5" y="360.04" width="11.4" height="4.8" rx="2.4" fill="#000" opacity="1" filter="url(#b1)"/>
<rect x="235" y="360.76" width="10.4" height="3.36" rx="1.68" fill="#000" opacity="1" filter="url(#b1)"/>
<rect x="245.8" y="359.9" width="11.4" height="5.2" rx="2.6" fill="#000" opacity="1" filter="url(#b1)"/>
<rect x="246.3" y="360.68" width="10.4" height="3.64" rx="1.82" fill="#000" opacity="1" filter="url(#b1)"/>
<rect x="257.1" y="360.06" width="11.4" height="5" rx="2.5" fill="#000" opacity="1" filter="url(#b1)"/>
<rect x="257.6" y="360.81" width="10.4" height="3.5" rx="1.75" fill="#000" opacity="1" filter="url(#b1)"/>
<rect x="268.4" y="360.12" width="11.4" height="5" rx="2.5" fill="#000" opacity="1" filter="url(#b1)"/>
<rect x="268.9" y="360.87" width="10.4" height="3.5" rx="1.75" fill="#000" opacity="1" filter="url(#b1)"/>
<rect x="279.7" y="360.18" width="11.4" height="5" rx="2.5" fill="#000" opacity="1" filter="url(#b1)"/>
<rect x="280.2" y="360.93" width="10.4" height="3.5" rx="1.75" fill="#000" opacity="1" filter="url(#b1)"/>
<rect x="291" y="360.34" width="11.4" height="4.8" rx="2.4" fill="#000" opacity="1" filter="url(#b1)"/>
<rect x="291.5" y="361.06" width="10.4" height="3.36" rx="1.68" fill="#000" opacity="1" filter="url(#b1)"/>
<rect x="302.3" y="360.4" width="11.4" height="4.8" rx="2.4" fill="#000" opacity="1" filter="url(#b1)"/>
<rect x="302.8" y="361.12" width="10.4" height="3.36" rx="1.68" fill="#000" opacity="1" filter="url(#b1)"/>
<rect x="313.6" y="360.36" width="11.4" height="5" rx="2.5" fill="#000" opacity="1" filter="url(#b1)"/>
<rect x="314.1" y="361.11" width="10.4" height="3.5" rx="1.75" fill="#000" opacity="1" filter="url(#b1)"/>
<rect x="324.9" y="360.52" width="11.4" height="4.8" rx="2.4" fill="#000" opacity="1" filter="url(#b1)"/>
<rect x="325.4" y="361.24" width="10.4" height="3.36" rx="1.68" fill="#000" opacity="1" filter="url(#b1)"/>
<rect x="336.2" y="360.58" width="11.4" height="4.8" rx="2.4" fill="#000" opacity="1" filter="url(#b1)"/>
<rect x="336.7" y="361.3" width="10.4" height="3.36" rx="1.68" fill="#000" opacity="1" filter="url(#b1)"/>
<rect x="348.4" y="361.54" width="9.6" height="3" rx="1.5" fill="#000" opacity="0.95" filter="url(#b1)"/>
<rect x="348.9" y="361.9" width="8.6" height="2.2" rx="1.1" fill="#000" opacity="0.8" filter="url(#b1)"/>
</g>
<g clip-path="url(#g2b)">
<rect x="184" y="374" width="180" height="9" fill="#000" opacity="0.12" filter="url(#b3)"/>
<rect x="188.75" y="376.5" width="12.5" height="7" rx="3.5" fill="#000" opacity="0.14" filter="url(#b2)"/>
<rect x="200.05" y="377.5" width="12.5" height="7" rx="3.5" fill="#000" opacity="0.24" filter="url(#b2)"/>
<rect x="211.35" y="378.5" width="12.5" height="7" rx="3.5" fill="#000" opacity="0.28" filter="url(#b2)"/>
<rect x="222.65" y="379" width="12.5" height="7" rx="3.5" fill="#000" opacity="0.3" filter="url(#b2)"/>
<rect x="233.95" y="377.5" width="12.5" height="7" rx="3.5" fill="#000" opacity="0.3" filter="url(#b2)"/>
<rect x="245.25" y="377.5" width="12.5" height="7" rx="3.5" fill="#000" opacity="0.28" filter="url(#b2)"/>
<rect x="256.55" y="378" width="12.5" height="7" rx="3.5" fill="#000" opacity="0.3" filter="url(#b2)"/>
<rect x="267.85" y="378" width="12.5" height="7" rx="3.5" fill="#000" opacity="0.28" filter="url(#b2)"/>
<rect x="279.15" y="378.5" width="12.5" height="7" rx="3.5" fill="#000" opacity="0.24" filter="url(#b2)"/>
<rect x="290.45" y="378.5" width="12.5" height="7" rx="3.5" fill="#000" opacity="0.2" filter="url(#b2)"/>
<rect x="301.75" y="378.5" width="12.5" height="7" rx="3.5" fill="#000" opacity="0.18" filter="url(#b2)"/>
<rect x="313.05" y="379" width="12.5" height="7" rx="3.5" fill="#000" opacity="0.18" filter="url(#b2)"/>
<rect x="324.35" y="379" width="12.5" height="7" rx="3.5" fill="#000" opacity="0.18" filter="url(#b2)"/>
<rect x="335.65" y="379.5" width="12.5" height="7" rx="3.5" fill="#000" opacity="0.24" filter="url(#b2)"/>
<rect x="346.95" y="379.5" width="12.5" height="7" rx="3.5" fill="#000" opacity="0.26" filter="url(#b2)"/>
<rect x="337.9" y="383.1" width="6" height="2.6" rx="1.3" fill="#000" opacity="0.32" filter="url(#b1)"/>
<rect x="350.2" y="383" width="5" height="2.8" rx="1.4" fill="#000" opacity="0.5" filter="url(#b1)"/>
<rect x="358.0" y="373.2" width="0.9" height="16" fill="#000" opacity="0.55"/>
</g>
<g clip-path="url(#g2c)">
<rect x="302" y="401.7" width="12" height="2.6" rx="1.3" fill="#000" opacity="0.02" filter="url(#b2)"/>
<rect x="313.3" y="401.7" width="12" height="2.6" rx="1.3" fill="#000" opacity="0.05" filter="url(#b2)"/>
<rect x="324.6" y="401.5" width="12" height="2.6" rx="1.3" fill="#000" opacity="0.14" filter="url(#b2)"/>
<rect x="335.9" y="400.7" width="12" height="2.6" rx="1.3" fill="#000" opacity="0.24" filter="url(#b2)"/>
<rect x="347.2" y="399.9" width="12" height="2.6" rx="1.3" fill="#000" opacity="0.38" filter="url(#b2)"/>
</g>
<text x="366" y="378.6" font-size="9.2" textLength="45" lengthAdjust="spacingAndGlyphs">LPS-THP-1</text>
<text x="366" y="389.4" font-size="9.2" textLength="46" lengthAdjust="spacingAndGlyphs">Bare Tubes</text>
<path d="M423.4 373.6L426.8 377L423.4 380.4L420 377Z" fill="#000"/>
<text x="184.2" y="362.6" font-size="8.3" text-anchor="end" textLength="25.3" lengthAdjust="spacingAndGlyphs">fVa HC</text>
<text x="184.2" y="383.4" font-size="8.3" text-anchor="end" textLength="34.4" lengthAdjust="spacingAndGlyphs">fVa 1-506</text>
<text x="184.2" y="401.4" font-size="8.3" text-anchor="end" textLength="43" lengthAdjust="spacingAndGlyphs">fVa 307-506</text>
</svg>
</body></html>
